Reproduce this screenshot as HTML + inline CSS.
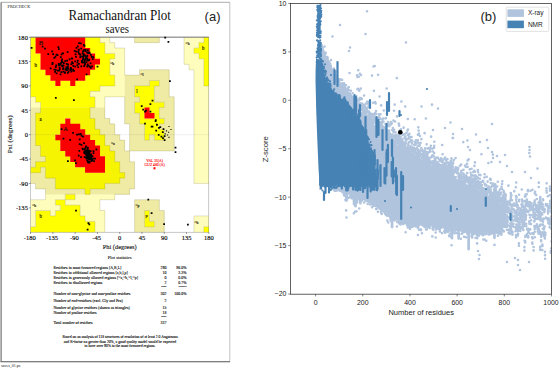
<!DOCTYPE html>
<html><head><meta charset="utf-8"><title>Figure</title>
<style>html,body{margin:0;padding:0;background:#fff}body{width:560px;height:369px;overflow:hidden;font-family:"Liberation Sans",sans-serif}</style></head>
<body>
<svg width="560" height="369" viewBox="0 0 560 369" style="display:block">
<rect width="560" height="369" fill="#fff"/>
<g fill="none" stroke="#777">
<path d="M1.1 2.3V361.7" stroke-width="1.1" stroke="#666"/>
<path d="M1 2.3H229.8" stroke-width="0.7" stroke="#888"/>
<path d="M229.8 2.3V361.7" stroke-width="0.6" stroke="#999"/>
<path d="M0.6 361.7H230" stroke-width="1.1" stroke="#555"/>
</g>
<path fill="#ffff00" d="M30.6 37.2h5.1v5.57h-5.1zM85.05 37.2h15v5.57h-15zM203.85 37.2h5.1v5.57h-5.1zM30.6 42.62h5.1v5.57h-5.1zM85.05 42.62h19.95v5.57h-19.95zM198.9 42.62h10.05v5.57h-10.05zM30.6 48.03h5.1v5.57h-5.1zM90 48.03h15v5.57h-15zM193.95 48.03h15v5.57h-15zM30.6 53.45h10.05v5.57h-10.05zM94.95 53.45h19.95v5.57h-19.95zM198.9 53.45h10.05v5.57h-10.05zM30.6 58.87h10.05v5.57h-10.05zM99.9 58.87h10.05v5.57h-10.05zM203.85 58.87h5.1v5.57h-5.1zM30.6 64.28h10.05v5.57h-10.05zM94.95 64.28h15v5.57h-15zM203.85 64.28h5.1v5.57h-5.1zM30.6 69.7h15v5.57h-15zM90 69.7h19.95v5.57h-19.95zM203.85 69.7h5.1v5.57h-5.1zM30.6 75.12h19.95v5.57h-19.95zM85.05 75.12h29.85v5.57h-29.85zM203.85 75.12h5.1v5.57h-5.1zM30.6 80.53h24.9v5.57h-24.9zM60.3 80.53h10.05v5.57h-10.05zM75.15 80.53h39.75v5.57h-39.75zM149.4 80.53h10.05v5.57h-10.05zM203.85 80.53h5.1v5.57h-5.1zM30.6 85.95h69.45v5.57h-69.45zM134.55 85.95h19.95v5.57h-19.95zM30.6 91.37h59.55v5.57h-59.55zM134.55 91.37h19.95v5.57h-19.95zM35.55 96.78h59.55v5.57h-59.55zM139.5 96.78h15v5.57h-15zM40.5 102.2h54.6v5.57h-54.6zM134.55 102.2h29.85v5.57h-29.85zM134.55 107.62h10.05v5.57h-10.05zM149.4 107.62h10.05v5.57h-10.05zM139.5 113.03h5.1v5.57h-5.1zM154.35 113.03h5.1v5.57h-5.1zM139.5 118.45h24.9v5.57h-24.9zM144.45 123.87h15v5.57h-15zM144.45 129.28h19.95v5.57h-19.95zM144.45 134.7h5.1v5.57h-5.1zM154.35 134.7h10.05v5.57h-10.05zM65.25 194.28h10.05v5.57h-10.05zM55.35 199.7h10.05v5.57h-10.05zM60.3 205.12h19.95v5.57h-19.95zM35.55 210.53h15v5.57h-15zM55.35 210.53h24.9v5.57h-24.9zM144.45 210.53h5.1v5.57h-5.1zM35.55 215.95h49.65v5.57h-49.65zM144.45 215.95h5.1v5.57h-5.1zM35.55 221.37h59.55v5.57h-59.55zM144.45 221.37h10.05v5.57h-10.05zM30.6 226.78h64.5v5.57h-64.5zM203.85 226.78h5.1v5.57h-5.1z"/>
<path fill="#ff0000" d="M35.55 37.2h49.65v5.57h-49.65zM35.55 42.62h49.65v5.57h-49.65zM35.55 48.03h54.6v5.57h-54.6zM40.5 53.45h54.6v5.57h-54.6zM40.5 58.87h59.55v5.57h-59.55zM40.5 64.28h54.6v5.57h-54.6zM45.45 69.7h44.7v5.57h-44.7zM50.4 75.12h34.8v5.57h-34.8zM55.35 80.53h5.1v5.57h-5.1zM70.2 80.53h5.1v5.57h-5.1zM144.45 107.62h5.1v5.57h-5.1zM144.45 113.03h10.05v5.57h-10.05z"/>
<path fill="#fffdbc" d="M99.9 37.2h10.05v5.57h-10.05zM184.05 37.2h19.95v5.57h-19.95zM104.85 42.62h10.05v5.57h-10.05zM184.05 42.62h15v5.57h-15zM104.85 48.03h19.95v5.57h-19.95zM184.05 48.03h10.05v5.57h-10.05zM114.75 53.45h10.05v5.57h-10.05zM184.05 53.45h15v5.57h-15zM109.8 58.87h15v5.57h-15zM184.05 58.87h19.95v5.57h-19.95zM109.8 64.28h15v5.57h-15zM189 64.28h15v5.57h-15zM109.8 69.7h15v5.57h-15zM193.95 69.7h10.05v5.57h-10.05zM114.75 75.12h10.05v5.57h-10.05zM193.95 75.12h10.05v5.57h-10.05zM114.75 80.53h10.05v5.57h-10.05zM193.95 80.53h10.05v5.57h-10.05zM99.9 85.95h24.9v5.57h-24.9zM193.95 85.95h15v5.57h-15zM90 91.37h34.8v5.57h-34.8zM193.95 91.37h15v5.57h-15zM30.6 96.78h5.1v5.57h-5.1zM94.95 96.78h10.05v5.57h-10.05zM193.95 96.78h15v5.57h-15zM30.6 102.2h10.05v5.57h-10.05zM94.95 102.2h10.05v5.57h-10.05zM193.95 102.2h15v5.57h-15zM193.95 107.62h15v5.57h-15zM193.95 113.03h15v5.57h-15zM193.95 118.45h15v5.57h-15zM193.95 123.87h15v5.57h-15zM193.95 129.28h15v5.57h-15zM193.95 134.7h15v5.57h-15zM193.95 140.12h15v5.57h-15zM193.95 145.53h15v5.57h-15zM193.95 150.95h15v5.57h-15zM193.95 156.37h15v5.57h-15zM193.95 161.78h15v5.57h-15zM193.95 167.2h15v5.57h-15zM193.95 172.62h15v5.57h-15zM193.95 178.03h15v5.57h-15zM45.45 194.28h19.95v5.57h-19.95zM75.15 194.28h39.75v5.57h-39.75zM30.6 199.7h24.9v5.57h-24.9zM65.25 199.7h34.8v5.57h-34.8zM30.6 205.12h29.85v5.57h-29.85zM80.1 205.12h19.95v5.57h-19.95zM30.6 210.53h5.1v5.57h-5.1zM50.4 210.53h5.1v5.57h-5.1zM80.1 210.53h24.9v5.57h-24.9zM30.6 215.95h5.1v5.57h-5.1zM85.05 215.95h19.95v5.57h-19.95zM193.95 215.95h15v5.57h-15zM30.6 221.37h5.1v5.57h-5.1zM94.95 221.37h10.05v5.57h-10.05zM193.95 221.37h15v5.57h-15zM94.95 226.78h10.05v5.57h-10.05zM193.95 226.78h10.05v5.57h-10.05z"/>
<path fill="#efeba4" d="M134.55 37.2h24.9v5.57h-24.9zM139.5 69.7h29.85v5.57h-29.85zM124.65 75.12h44.7v5.57h-44.7zM124.65 80.53h24.9v5.57h-24.9zM159.3 80.53h10.05v5.57h-10.05zM124.65 85.95h10.05v5.57h-10.05zM154.35 85.95h15v5.57h-15zM124.65 91.37h10.05v5.57h-10.05zM154.35 91.37h15v5.57h-15zM124.65 96.78h15v5.57h-15zM154.35 96.78h19.95v5.57h-19.95zM124.65 102.2h10.05v5.57h-10.05zM164.25 102.2h10.05v5.57h-10.05zM30.6 107.62h10.05v5.57h-10.05zM90 107.62h15v5.57h-15zM124.65 107.62h10.05v5.57h-10.05zM159.3 107.62h15v5.57h-15zM30.6 113.03h5.1v5.57h-5.1zM90 113.03h15v5.57h-15zM124.65 113.03h15v5.57h-15zM159.3 113.03h15v5.57h-15zM30.6 118.45h5.1v5.57h-5.1zM94.95 118.45h15v5.57h-15zM124.65 118.45h15v5.57h-15zM164.25 118.45h10.05v5.57h-10.05zM30.6 123.87h5.1v5.57h-5.1zM94.95 123.87h19.95v5.57h-19.95zM129.6 123.87h15v5.57h-15zM159.3 123.87h15v5.57h-15zM30.6 129.28h5.1v5.57h-5.1zM99.9 129.28h15v5.57h-15zM129.6 129.28h15v5.57h-15zM164.25 129.28h10.05v5.57h-10.05zM30.6 134.7h5.1v5.57h-5.1zM104.85 134.7h15v5.57h-15zM129.6 134.7h15v5.57h-15zM149.4 134.7h5.1v5.57h-5.1zM164.25 134.7h10.05v5.57h-10.05zM30.6 140.12h5.1v5.57h-5.1zM104.85 140.12h19.95v5.57h-19.95zM129.6 140.12h44.7v5.57h-44.7zM30.6 145.53h10.05v5.57h-10.05zM109.8 145.53h15v5.57h-15zM129.6 145.53h44.7v5.57h-44.7zM30.6 150.95h10.05v5.57h-10.05zM114.75 150.95h15v5.57h-15zM30.6 156.37h15v5.57h-15zM114.75 156.37h15v5.57h-15zM30.6 161.78h5.1v5.57h-5.1zM119.7 161.78h15v5.57h-15zM40.5 167.2h5.1v5.57h-5.1zM119.7 167.2h15v5.57h-15zM30.6 172.62h15v5.57h-15zM124.65 172.62h10.05v5.57h-10.05zM30.6 178.03h24.9v5.57h-24.9zM119.7 178.03h15v5.57h-15zM35.55 183.45h19.95v5.57h-19.95zM104.85 183.45h29.85v5.57h-29.85zM45.45 188.87h39.75v5.57h-39.75zM90 188.87h39.75v5.57h-39.75zM134.55 199.7h24.9v5.57h-24.9zM134.55 205.12h24.9v5.57h-24.9zM134.55 210.53h10.05v5.57h-10.05zM149.4 210.53h15v5.57h-15zM134.55 215.95h10.05v5.57h-10.05zM149.4 215.95h15v5.57h-15zM134.55 221.37h10.05v5.57h-10.05zM154.35 221.37h10.05v5.57h-10.05zM134.55 226.78h29.85v5.57h-29.85z"/>
<path fill="#f6f400" d="M40.5 107.62h49.65v5.57h-49.65zM35.55 113.03h54.6v5.57h-54.6zM35.55 118.45h29.85v5.57h-29.85zM70.2 118.45h24.9v5.57h-24.9zM35.55 123.87h24.9v5.57h-24.9zM80.1 123.87h15v5.57h-15zM35.55 129.28h24.9v5.57h-24.9zM85.05 129.28h15v5.57h-15zM35.55 134.7h19.95v5.57h-19.95zM90 134.7h15v5.57h-15zM35.55 140.12h24.9v5.57h-24.9zM94.95 140.12h10.05v5.57h-10.05zM40.5 145.53h19.95v5.57h-19.95zM99.9 145.53h10.05v5.57h-10.05zM40.5 150.95h24.9v5.57h-24.9zM99.9 150.95h15v5.57h-15zM45.45 156.37h24.9v5.57h-24.9zM104.85 156.37h10.05v5.57h-10.05zM35.55 161.78h39.75v5.57h-39.75zM104.85 161.78h15v5.57h-15zM30.6 167.2h10.05v5.57h-10.05zM45.45 167.2h39.75v5.57h-39.75zM104.85 167.2h15v5.57h-15zM45.45 172.62h79.35v5.57h-79.35zM55.35 178.03h64.5v5.57h-64.5zM55.35 183.45h49.65v5.57h-49.65zM85.05 188.87h5.1v5.57h-5.1z"/>
<path fill="#fa0000" d="M65.25 118.45h5.1v5.57h-5.1zM60.3 123.87h19.95v5.57h-19.95zM60.3 129.28h24.9v5.57h-24.9zM55.35 134.7h34.8v5.57h-34.8zM60.3 140.12h34.8v5.57h-34.8zM60.3 145.53h39.75v5.57h-39.75zM65.25 150.95h34.8v5.57h-34.8zM70.2 156.37h34.8v5.57h-34.8zM75.15 161.78h29.85v5.57h-29.85zM85.05 167.2h19.95v5.57h-19.95z"/>
<path d="M99.9 37.2v5.42M99.9 42.62h4.95M109.8 37.2v5.42M109.8 42.62h4.95M134.55 37.2v5.42M134.55 42.62h4.95M139.5 42.62h4.95M144.45 42.62h4.95M149.4 42.62h4.95M159.3 37.2v5.42M154.35 42.62h4.95M184.05 37.2v5.42M203.85 37.2v5.42M198.9 42.62h4.95M104.85 42.62v5.42M114.75 42.62v5.42M114.75 48.03h4.95M119.7 48.03h4.95M184.05 42.62v5.42M198.9 42.62v5.42M193.95 48.03h4.95M104.85 48.03v5.42M104.85 53.45h4.95M109.8 53.45h4.95M124.65 48.03v5.42M184.05 48.03v5.42M193.95 48.03v5.42M193.95 53.45h4.95M114.75 53.45v5.42M109.8 58.87h4.95M124.65 53.45v5.42M184.05 53.45v5.42M198.9 53.45v5.42M198.9 58.87h4.95M109.8 58.87v5.42M124.65 58.87v5.42M184.05 58.87v5.42M184.05 64.28h4.95M203.85 58.87v5.42M109.8 64.28v5.42M124.65 64.28v5.42M139.5 69.7h4.95M144.45 69.7h4.95M149.4 69.7h4.95M154.35 69.7h4.95M159.3 69.7h4.95M164.25 69.7h4.95M189 64.28v5.42M189 69.7h4.95M203.85 64.28v5.42M109.8 69.7v5.42M109.8 75.12h4.95M124.65 69.7v5.42M124.65 75.12h4.95M129.6 75.12h4.95M139.5 69.7v5.42M134.55 75.12h4.95M169.2 69.7v5.42M193.95 69.7v5.42M203.85 69.7v5.42M114.75 75.12v5.42M149.4 80.53h4.95M154.35 80.53h4.95M169.2 75.12v5.42M193.95 75.12v5.42M203.85 75.12v5.42M99.9 85.95h4.95M104.85 85.95h4.95M114.75 80.53v5.42M109.8 85.95h4.95M134.55 85.95h4.95M139.5 85.95h4.95M149.4 80.53v5.42M144.45 85.95h4.95M159.3 80.53v5.42M154.35 85.95h4.95M169.2 80.53v5.42M193.95 80.53v5.42M203.85 80.53v5.42M203.85 85.95h4.95M90 91.37h4.95M99.9 85.95v5.42M94.95 91.37h4.95M134.55 85.95v5.42M154.35 85.95v5.42M169.2 85.95v5.42M193.95 85.95v5.42M30.6 96.78h4.95M90 91.37v5.42M90 96.78h4.95M104.85 96.78h4.95M109.8 96.78h4.95M114.75 96.78h4.95M119.7 96.78h4.95M134.55 91.37v5.42M134.55 96.78h4.95M154.35 91.37v5.42M169.2 91.37v5.42M169.2 96.78h4.95M193.95 91.37v5.42M35.55 96.78v5.42M35.55 102.2h4.95M94.95 96.78v5.42M104.85 96.78v5.42M124.65 96.78v5.42M139.5 96.78v5.42M134.55 102.2h4.95M154.35 96.78v5.42M154.35 102.2h4.95M159.3 102.2h4.95M174.15 96.78v5.42M193.95 96.78v5.42M40.5 102.2v5.42M94.95 102.2v5.42M90 107.62h4.95M104.85 102.2v5.42M124.65 102.2v5.42M134.55 102.2v5.42M164.25 102.2v5.42M159.3 107.62h4.95M174.15 102.2v5.42M193.95 102.2v5.42M40.5 107.62v5.42M35.55 113.03h4.95M90 107.62v5.42M104.85 107.62v5.42M124.65 107.62v5.42M134.55 107.62v5.42M134.55 113.03h4.95M159.3 107.62v5.42M174.15 107.62v5.42M193.95 107.62v5.42M35.55 113.03v5.42M90 113.03v5.42M90 118.45h4.95M104.85 113.03v5.42M104.85 118.45h4.95M124.65 113.03v5.42M139.5 113.03v5.42M159.3 113.03v5.42M159.3 118.45h4.95M174.15 113.03v5.42M193.95 113.03v5.42M35.55 118.45v5.42M94.95 118.45v5.42M109.8 118.45v5.42M109.8 123.87h4.95M124.65 118.45v5.42M124.65 123.87h4.95M139.5 118.45v5.42M139.5 123.87h4.95M164.25 118.45v5.42M159.3 123.87h4.95M174.15 118.45v5.42M193.95 118.45v5.42M35.55 123.87v5.42M94.95 123.87v5.42M94.95 129.28h4.95M114.75 123.87v5.42M129.6 123.87v5.42M144.45 123.87v5.42M159.3 123.87v5.42M159.3 129.28h4.95M174.15 123.87v5.42M193.95 123.87v5.42M35.55 129.28v5.42M99.9 129.28v5.42M99.9 134.7h4.95M114.75 129.28v5.42M114.75 134.7h4.95M129.6 129.28v5.42M144.45 129.28v5.42M149.4 134.7h4.95M164.25 129.28v5.42M174.15 129.28v5.42M193.95 129.28v5.42M35.55 134.7v5.42M104.85 134.7v5.42M119.7 134.7v5.42M119.7 140.12h4.95M129.6 134.7v5.42M144.45 134.7v5.42M149.4 134.7v5.42M144.45 140.12h4.95M154.35 134.7v5.42M154.35 140.12h4.95M164.25 134.7v5.42M159.3 140.12h4.95M174.15 134.7v5.42M193.95 134.7v5.42M35.55 140.12v5.42M35.55 145.53h4.95M104.85 140.12v5.42M104.85 145.53h4.95M124.65 140.12v5.42M129.6 140.12v5.42M174.15 140.12v5.42M193.95 140.12v5.42M40.5 145.53v5.42M109.8 145.53v5.42M109.8 150.95h4.95M124.65 145.53v5.42M129.6 145.53v5.42M124.65 150.95h4.95M129.6 150.95h4.95M134.55 150.95h4.95M139.5 150.95h4.95M144.45 150.95h4.95M149.4 150.95h4.95M154.35 150.95h4.95M159.3 150.95h4.95M164.25 150.95h4.95M174.15 145.53v5.42M169.2 150.95h4.95M193.95 145.53v5.42M40.5 150.95v5.42M40.5 156.37h4.95M114.75 150.95v5.42M129.6 150.95v5.42M193.95 150.95v5.42M35.55 161.78h4.95M45.45 156.37v5.42M40.5 161.78h4.95M114.75 156.37v5.42M114.75 161.78h4.95M129.6 156.37v5.42M129.6 161.78h4.95M193.95 156.37v5.42M35.55 161.78v5.42M30.6 167.2h4.95M40.5 167.2h4.95M119.7 161.78v5.42M134.55 161.78v5.42M193.95 161.78v5.42M30.6 172.62h4.95M40.5 167.2v5.42M35.55 172.62h4.95M45.45 167.2v5.42M119.7 167.2v5.42M119.7 172.62h4.95M134.55 167.2v5.42M193.95 167.2v5.42M45.45 172.62v5.42M45.45 178.03h4.95M50.4 178.03h4.95M124.65 172.62v5.42M119.7 178.03h4.95M134.55 172.62v5.42M193.95 172.62v5.42M30.6 183.45h4.95M55.35 178.03v5.42M104.85 183.45h4.95M109.8 183.45h4.95M119.7 178.03v5.42M114.75 183.45h4.95M134.55 178.03v5.42M193.95 178.03v5.42M193.95 183.45h4.95M198.9 183.45h4.95M203.85 183.45h4.95M35.55 183.45v5.42M35.55 188.87h4.95M40.5 188.87h4.95M55.35 183.45v5.42M55.35 188.87h4.95M60.3 188.87h4.95M65.25 188.87h4.95M70.2 188.87h4.95M75.15 188.87h4.95M80.1 188.87h4.95M90 188.87h4.95M94.95 188.87h4.95M104.85 183.45v5.42M99.9 188.87h4.95M134.55 183.45v5.42M129.6 188.87h4.95M45.45 188.87v5.42M65.25 194.28h4.95M70.2 194.28h4.95M85.05 188.87v5.42M90 188.87v5.42M85.05 194.28h4.95M114.75 194.28h4.95M119.7 194.28h4.95M129.6 188.87v5.42M124.65 194.28h4.95M30.6 199.7h4.95M35.55 199.7h4.95M45.45 194.28v5.42M40.5 199.7h4.95M55.35 199.7h4.95M65.25 194.28v5.42M60.3 199.7h4.95M65.25 199.7h4.95M75.15 194.28v5.42M70.2 199.7h4.95M99.9 199.7h4.95M104.85 199.7h4.95M114.75 194.28v5.42M109.8 199.7h4.95M134.55 199.7h4.95M139.5 199.7h4.95M144.45 199.7h4.95M149.4 199.7h4.95M154.35 199.7h4.95M55.35 199.7v5.42M55.35 205.12h4.95M65.25 199.7v5.42M65.25 205.12h4.95M70.2 205.12h4.95M75.15 205.12h4.95M99.9 199.7v5.42M134.55 199.7v5.42M159.3 199.7v5.42M35.55 210.53h4.95M40.5 210.53h4.95M45.45 210.53h4.95M60.3 205.12v5.42M55.35 210.53h4.95M80.1 205.12v5.42M99.9 205.12v5.42M99.9 210.53h4.95M134.55 205.12v5.42M144.45 210.53h4.95M159.3 205.12v5.42M159.3 210.53h4.95M35.55 210.53v5.42M50.4 210.53v5.42M55.35 210.53v5.42M50.4 215.95h4.95M80.1 210.53v5.42M80.1 215.95h4.95M104.85 210.53v5.42M134.55 210.53v5.42M144.45 210.53v5.42M149.4 210.53v5.42M164.25 210.53v5.42M193.95 215.95h4.95M198.9 215.95h4.95M203.85 215.95h4.95M35.55 215.95v5.42M85.05 215.95v5.42M85.05 221.37h4.95M90 221.37h4.95M104.85 215.95v5.42M134.55 215.95v5.42M144.45 215.95v5.42M149.4 215.95v5.42M149.4 221.37h4.95M164.25 215.95v5.42M193.95 215.95v5.42M35.55 221.37v5.42M30.6 226.78h4.95M94.95 221.37v5.42M104.85 221.37v5.42M134.55 221.37v5.42M144.45 221.37v5.42M144.45 226.78h4.95M154.35 221.37v5.42M149.4 226.78h4.95M164.25 221.37v5.42M193.95 221.37v5.42M203.85 226.78h4.95M94.95 226.78v5.42M104.85 226.78v5.42M134.55 226.78v5.42M164.25 226.78v5.42M193.95 226.78v5.42M203.85 226.78v5.42" stroke="#5a5a20" stroke-opacity="0.38" stroke-width="0.45" fill="none"/>
<path d="M30.6 37.1H208.8" stroke="#444" stroke-width="0.6" fill="none"/>
<rect x="30.6" y="37.2" width="178.2" height="195" fill="none" stroke="#666" stroke-opacity="0.7" stroke-width="0.5"/>
<path d="M30.6 134.7H208.8" stroke="#666" stroke-opacity="0.5" stroke-width="0.4" stroke-dasharray="0.8 0.8" fill="none"/>
<g font-family="Liberation Serif, serif" fill="#000" stroke="#000" stroke-width="0.12">
<text transform="translate(27.9 39.5) scale(1 1.09)" font-size="6.55" text-anchor="end">180</text>
<text transform="translate(27.9 63.88) scale(1 1.09)" font-size="6.55" text-anchor="end">135</text>
<text transform="translate(27.9 88.25) scale(1 1.09)" font-size="6.55" text-anchor="end">90</text>
<text transform="translate(27.9 112.62) scale(1 1.09)" font-size="6.55" text-anchor="end">45</text>
<text transform="translate(27.9 137) scale(1 1.09)" font-size="6.55" text-anchor="end">0</text>
<text transform="translate(27.9 161.38) scale(1 1.09)" font-size="6.55" text-anchor="end">-45</text>
<text transform="translate(27.9 185.75) scale(1 1.09)" font-size="6.55" text-anchor="end">-90</text>
<text transform="translate(27.9 210.12) scale(1 1.09)" font-size="6.55" text-anchor="end">-135</text>
<text transform="translate(29.8 240.1) scale(1 1.09)" font-size="6.55" text-anchor="middle">-180</text>
<text transform="translate(52.08 240.1) scale(1 1.09)" font-size="6.55" text-anchor="middle">-135</text>
<text transform="translate(74.35 240.1) scale(1 1.09)" font-size="6.55" text-anchor="middle">-90</text>
<text transform="translate(96.63 240.1) scale(1 1.09)" font-size="6.55" text-anchor="middle">-45</text>
<text transform="translate(119.7 240.1) scale(1 1.09)" font-size="6.55" text-anchor="middle">0</text>
<text transform="translate(141.97 240.1) scale(1 1.09)" font-size="6.55" text-anchor="middle">45</text>
<text transform="translate(164.25 240.1) scale(1 1.09)" font-size="6.55" text-anchor="middle">90</text>
<text transform="translate(186.53 240.1) scale(1 1.09)" font-size="6.55" text-anchor="middle">135</text>
<text transform="translate(208.8 240.1) scale(1 1.09)" font-size="6.55" text-anchor="middle">180</text>
</g>
<path d="M30.6 37.2h-1.7M30.6 61.58h-1.7M30.6 85.95h-1.7M30.6 110.33h-1.7M30.6 134.7h-1.7M30.6 159.07h-1.7M30.6 183.45h-1.7M30.6 207.82h-1.7M30.6 232.2v1.7M52.88 232.2v1.7M75.15 232.2v1.7M97.43 232.2v1.7M119.7 232.2v1.7M141.97 232.2v1.7M164.25 232.2v1.7M186.53 232.2v1.7M208.8 232.2v1.7" stroke="#333" stroke-width="0.5" fill="none"/>
<g font-family="Liberation Serif, serif" fill="#111" text-anchor="middle">
<text transform="translate(119.8 20.4) scale(1 1.09)" font-size="13.05" text-anchor="middle">Ramachandran Plot</text>
<text transform="translate(117.3 33.3) scale(1 1.09)" font-size="10.9" text-anchor="middle">saves</text>
<text transform="translate(119.7 249) scale(1 1.09)" font-size="6.4" text-anchor="middle" stroke="#000" stroke-width="0.1">Phi (degrees)</text>
<text transform="translate(119.7 258.9) scale(1 1.09)" font-size="4.5" text-anchor="middle" stroke="#000" stroke-width="0.08">Plot statistics</text>
<text transform="translate(12.1 134.3) rotate(-90) scale(1.09 1)" font-size="6.7" stroke="#000" stroke-width="0.1">Psi (degrees)</text>
</g>
<g font-family="Liberation Serif, serif" fill="#111">
<text transform="translate(7.6 8) scale(1 1.09)" font-size="4.25" text-anchor="start">PROCHECK</text>
<text transform="translate(1.2 367.3) scale(1 1.09)" font-size="4.0" text-anchor="start">saves_01.ps</text>
</g>
<text x="204.6" y="21.4" font-family="Liberation Sans, sans-serif" font-size="13" fill="#222">(a)</text>
<g font-family="Liberation Serif, serif" fill="#1a1000" stroke="#1a1000" stroke-width="0.15">
<text transform="translate(38.7 45) scale(1 1.09)" font-size="6.5" text-anchor="start">B</text>
<text transform="translate(34.6 66.7) scale(1 1.09)" font-size="5" text-anchor="start">b</text>
<text transform="translate(110.2 65.3) scale(1 1.09)" font-size="3.8" text-anchor="start">~b</text>
<text transform="translate(63.2 131.3) scale(1 1.09)" font-size="6.5" text-anchor="start">A</text>
<text transform="translate(39.5 120.8) scale(1 1.09)" font-size="4.8" text-anchor="start">a</text>
<text transform="translate(111 144.8) scale(1 1.09)" font-size="3.8" text-anchor="start">~a</text>
<text transform="translate(136.2 93.3) scale(1 1.09)" font-size="4.8" text-anchor="start">l</text>
<text transform="translate(140.4 76.4) scale(1 1.09)" font-size="3.8" text-anchor="start">~l</text>
<text transform="translate(185.6 44.8) scale(1 1.09)" font-size="3.8" text-anchor="start">~b</text>
<text transform="translate(202 49.5) scale(1 1.09)" font-size="4.8" text-anchor="start">b</text>
<text transform="translate(32.2 206.8) scale(1 1.09)" font-size="3.8" text-anchor="start">~b</text>
<text transform="translate(39.4 217.6) scale(1 1.09)" font-size="4.8" text-anchor="start">b</text>
<text transform="translate(135.4 206.8) scale(1 1.09)" font-size="3.8" text-anchor="start">~p</text>
<text transform="translate(145.6 216.5) scale(1 1.09)" font-size="4.6" text-anchor="start">p</text>
<text transform="translate(194.4 223.5) scale(1 1.09)" font-size="3.8" text-anchor="start">~b</text>
</g>
<path d="M169 126.5h.01M168.6 132.2h.01M169 137.4h.01M171 129.5h.01M166.5 130.8h.01M167.5 135h.01M165.2 133.8h.01" stroke="#111" stroke-width="1.15" stroke-linecap="square" fill="none"/>
<path d="M62.96 69.15h.01M63.14 65.41h.01M58.92 65.39h.01M71.17 69.7h.01M70.72 68.85h.01M66.87 68.12h.01M54.5 69.74h.01M67.54 69.62h.01M54.35 57.9h.01M59.16 64.26h.01M66.33 67h.01M67.63 64.44h.01M66.35 69.01h.01M60.53 74.36h.01M67.84 72.83h.01M60.78 63.21h.01M62.44 66.28h.01M68.29 68.57h.01M61.82 62.34h.01M61.38 72.19h.01M59.65 67.56h.01M67.06 60.52h.01M64.79 72.97h.01M52.41 64.15h.01M63.86 63.21h.01M67.48 67.06h.01M55.71 69.75h.01M68.52 71.76h.01M73.14 69.64h.01M65.22 61.17h.01M68.19 64.64h.01M61.78 60.94h.01M58.69 63.92h.01M72.23 58.65h.01M55.75 67.08h.01M73.16 70.63h.01M53.1 54.24h.01M66.64 63.9h.01M57.78 70.67h.01M71.11 68.48h.01M65.97 69.15h.01M74.06 70.92h.01M67.61 69.85h.01M55.09 71.75h.01M70.23 70.07h.01M52.66 62.76h.01M69.55 59.34h.01M63.4 71.51h.01M56.63 73.42h.01M67.81 66.7h.01M66.45 70.18h.01M65.22 72.29h.01M60.53 64.66h.01M70.75 67.84h.01M59.22 70.7h.01M73.29 65.99h.01M56.22 65.43h.01M63.61 65.54h.01M72.93 63.3h.01M72.06 62.1h.01M59.78 69.33h.01M71.27 71.69h.01M66.57 67.89h.01M65.41 69.72h.01M63.44 68.14h.01M67.94 67.4h.01M87.25 58.8h.01M91.74 56.97h.01M82.96 51.67h.01M84.45 61.52h.01M83.29 57.43h.01M80.45 56.35h.01M85.93 56.31h.01M82.95 59.48h.01M85.52 50.53h.01M93.25 57.2h.01M82.5 53.74h.01M83.69 54.02h.01M74.68 50.8h.01M84.26 61.75h.01M87.58 65.83h.01M78.37 51.81h.01M83.27 59.24h.01M85.13 63.58h.01M83.96 55.95h.01M87.37 55.57h.01M84.18 66.15h.01M88.27 52.27h.01M87.79 52.48h.01M84.98 59.86h.01M85.3 59.35h.01M79 43.03h.01M80.8 43.33h.01M89.06 60.17h.01M84.5 45.83h.01M87.26 66.58h.01M81.3 66.36h.01M88.06 53.15h.01M77.4 65.19h.01M84.15 49.92h.01M85.94 57.62h.01M88.59 65.8h.01M89.73 53.13h.01M81.82 62.24h.01M84.91 55.44h.01M89.63 52.5h.01M76.23 51.56h.01M77.83 60.72h.01M85.64 49.85h.01M84.47 60.83h.01M84.78 64.58h.01M84.28 62.41h.01M89.87 66.74h.01M82.08 61.19h.01M77.75 46.27h.01M77.43 62.62h.01M80.07 54.4h.01M83.81 54.28h.01M82.37 56.28h.01M90.95 54.84h.01M86.41 62.1h.01M83.79 44.93h.01M82.5 62.66h.01M78.57 49.96h.01M88.13 60.52h.01M84.53 60.62h.01M78.87 49.64h.01M87.82 50.2h.01M81.25 48.64h.01M78.99 53.61h.01M80.25 57.27h.01M76 56.99h.01M87.11 52.41h.01M76.47 47.85h.01M85.55 51.01h.01M87.31 60.18h.01M86.9 56.98h.01M89.3 59.51h.01M87.73 64.45h.01M83.43 50.93h.01M77.16 79.39h.01M61.8 65.52h.01M92.75 59.04h.01M78.17 67.22h.01M62.04 59.29h.01M75.22 66.6h.01M71.62 58.44h.01M60.82 57.13h.01M81.81 60.81h.01M62.62 53.27h.01M78.84 63.85h.01M90.53 63.42h.01M71.26 64.18h.01M50.61 68.27h.01M75.57 54.38h.01M86.58 74.47h.01M56.57 54.67h.01M75.2 61.47h.01M67.62 52.21h.01M58.86 49.24h.01M90.73 67.91h.01M92.03 66.48h.01M62.41 62.09h.01M48.24 54.02h.01M57.53 55.14h.01M52.18 51.25h.01M61.67 54.26h.01M63.1 53.25h.01M55.41 56.73h.01M58.39 47.04h.01M86.99 154.3h.01M88.07 155.63h.01M88.3 155.87h.01M88.02 151.8h.01M89.18 158.96h.01M89.21 155.66h.01M89.24 153.6h.01M84.32 152.22h.01M86.35 155.74h.01M86.02 146.47h.01M86.12 157.79h.01M87.5 151.07h.01M86.7 155.45h.01M89.34 156.75h.01M91.42 159.9h.01M88.26 156.96h.01M91.77 160.91h.01M90.45 154.31h.01M87.99 157.09h.01M87.68 157.73h.01M89.55 158.88h.01M87.85 161.83h.01M90.9 157.01h.01M88.49 162.5h.01M87.58 157.13h.01M90.36 157.14h.01M85.85 153.85h.01M89.05 159.05h.01M89.94 156.84h.01M90.09 158.35h.01M88.73 155.91h.01M87.79 156.81h.01M86.09 151.86h.01M88.31 151.5h.01M87.38 149.26h.01M86.87 155.72h.01M89.49 156.25h.01M87.81 151.2h.01M92.14 160h.01M90.6 154.97h.01M87.91 150.21h.01M89.94 159.27h.01M84.32 151.92h.01M89.62 151.8h.01M84.47 149.34h.01M86.98 150.54h.01M88.37 156.12h.01M89.63 158.39h.01M91.46 161.16h.01M85.55 151.74h.01M86.07 150.66h.01M88.13 155.27h.01M89.33 152.02h.01M85.7 153.16h.01M87.88 154.22h.01M88.17 153.26h.01M89.77 157.58h.01M88.12 153.45h.01M87.93 147.82h.01M86.24 153.77h.01M85.14 153.29h.01M88.61 151.98h.01M87.77 154.12h.01M89.27 157.84h.01M88.22 153.06h.01M88 154.97h.01M89.84 157.48h.01M86.78 150.51h.01M87.52 152.76h.01M85.97 153.13h.01M87.27 154.82h.01M89.4 155.22h.01M93.18 158.63h.01M90.61 157.66h.01M90.64 151.01h.01M86.72 154.74h.01M89.57 162.7h.01M88.98 159.39h.01M89.91 159.28h.01M89.37 155.88h.01M89.37 153.41h.01M90.78 154.76h.01M88.82 161.51h.01M87.83 155.06h.01M90.74 157.52h.01M86.6 154.67h.01M89.52 158.32h.01M86.68 158.72h.01M91.8 158.38h.01M88.86 154.73h.01M91.27 156h.01M89.72 155.3h.01M86.84 156.1h.01M91.1 157.72h.01M86.88 156.38h.01M88.2 156.14h.01M91.5 161.1h.01M87.21 160.59h.01M88.31 157.51h.01M86.94 154.14h.01M84.63 157.09h.01M91.17 154.56h.01M85.14 148.42h.01M90.77 156.24h.01M88.17 154.46h.01M88.05 152.28h.01M88.35 151.6h.01M88.15 156.1h.01M89.28 155.6h.01M86.4 154.24h.01M87.28 158.73h.01M89.91 156.44h.01M87.31 152.69h.01M86.33 152.81h.01M88.92 157.3h.01M89.32 161.68h.01M85.24 150.78h.01M96.44 149.33h.01M85.83 151.76h.01M87.99 153.96h.01M86.74 153.08h.01M87.67 155.28h.01M81.44 144.94h.01M87.49 147.74h.01M84.16 152.71h.01M85.42 153.45h.01M89.89 154.61h.01M89.13 152.48h.01M82.99 149.34h.01M88.95 150.63h.01M87.18 154.91h.01M84.69 153.06h.01M93.46 153.07h.01M87.97 151.64h.01M92.43 156.08h.01M61.6 129h.01M73 132.8h.01M63.5 138.5h.01M70.2 139.8h.01M77 134.6h.01M78.8 134.3h.01M80.6 133.8h.01M81.5 135.6h.01M83 136.5h.01M79.7 139.4h.01M79.7 144.2h.01M79.3 150.8h.01M78.7 155.5h.01M67.9 161.2h.01M75 160.3h.01M75.9 163h.01M84 143h.01M86 146.5h.01M82.5 148.5h.01M93.5 151h.01M95 158.5h.01M94 161h.01M81 157h.01M155.6 121.1h.01M157 124.8h.01M151.6 126.5h.01M160.3 127h.01M156.2 130.5h.01M158.7 134.9h.01M161.4 136.5h.01M164.6 136h.01M164.6 140h.01M175.5 147.6h.01M175.5 152.2h.01M152.5 100.7h.01M150.4 104h.01M141.7 106.1h.01M145 111.5h.01M146 110.5h.01M150.4 111.5h.01M155.8 120.2h.01M145 123.5h.01M152.5 126.7h.01M156.9 124.6h.01M159 127.8h.01M169.9 81.2h.01M163.5 129h.01M162.8 132.2h.01M163 138.2h.01M168.4 41.9h.01M165.2 37.6h.01M55.8 97.8h.01M73.9 100.1h.01M31.6 47.8h.01M76 210.5h.01M88.4 223h.01M87.6 229.6h.01M89.3 224.3h.01M148.3 199.6h.01M151.6 213h.01M164.1 224.1h.01M187.9 224.6h.01M97.5 66.5h.01M42.6 46.5h.01M45 48.5h.01M143.2 109.5h.01" stroke="#000" stroke-width="1.75" stroke-linecap="square" fill="none"/>
<rect x="153.5" y="167.2" width="2.0" height="2.1" fill="#f00"/>
<g font-family="Liberation Serif, serif" fill="#f00" stroke="#f00" stroke-width="0.1">
<text transform="translate(154.6 162.4) scale(1 1.09)" font-size="3.7" text-anchor="middle">VAL 31(A)</text>
<text transform="translate(154.6 165.7) scale(1 1.09)" font-size="3.7" text-anchor="middle">GLU 460 (A)</text>
</g>
<g font-family="Liberation Serif, serif" fill="#000" stroke="#000" stroke-width="0.09">
<text transform="translate(53.4 269) scale(1 1.09)" font-size="3.95" text-anchor="start">Residues in most favoured regions  [A,B,L]</text>
<text transform="translate(166.4 269) scale(1 1.09)" font-size="3.95" text-anchor="end">290</text>
<text transform="translate(186.5 269) scale(1 1.09)" font-size="3.95" text-anchor="end">96.0%</text>
<text transform="translate(53.4 274.4) scale(1 1.09)" font-size="3.95" text-anchor="start">Residues in additional allowed regions  [a,b,l,p]</text>
<text transform="translate(166.4 274.4) scale(1 1.09)" font-size="3.95" text-anchor="end">10</text>
<text transform="translate(186.5 274.4) scale(1 1.09)" font-size="3.95" text-anchor="end">3.3%</text>
<text transform="translate(53.4 279.1) scale(1 1.09)" font-size="3.95" text-anchor="start">Residues in generously allowed regions  [~a,~b,~l,~p]</text>
<text transform="translate(166.4 279.1) scale(1 1.09)" font-size="3.95" text-anchor="end">0</text>
<text transform="translate(186.5 279.1) scale(1 1.09)" font-size="3.95" text-anchor="end">0.0%</text>
<text transform="translate(53.4 283.9) scale(1 1.09)" font-size="3.95" text-anchor="start">Residues in disallowed regions</text>
<text transform="translate(166.4 283.9) scale(1 1.09)" font-size="3.95" text-anchor="end">2</text>
<text transform="translate(186.5 283.9) scale(1 1.09)" font-size="3.95" text-anchor="end">0.7%</text>
<text transform="translate(53.4 294.8) scale(1 1.09)" font-size="3.95" text-anchor="start">Number of non-glycine and non-proline residues</text>
<text transform="translate(166.4 294.8) scale(1 1.09)" font-size="3.95" text-anchor="end">302</text>
<text transform="translate(186.5 294.8) scale(1 1.09)" font-size="3.95" text-anchor="end">100.0%</text>
<text transform="translate(53.4 301.6) scale(1 1.09)" font-size="3.95" text-anchor="start">Number of end-residues (excl. Gly and Pro)</text>
<text transform="translate(166.4 301.6) scale(1 1.09)" font-size="3.95" text-anchor="end">2</text>
<text transform="translate(53.4 308.8) scale(1 1.09)" font-size="3.95" text-anchor="start">Number of glycine residues (shown as triangles)</text>
<text transform="translate(166.4 308.8) scale(1 1.09)" font-size="3.95" text-anchor="end">15</text>
<text transform="translate(53.4 313.5) scale(1 1.09)" font-size="3.95" text-anchor="start">Number of proline residues</text>
<text transform="translate(166.4 313.5) scale(1 1.09)" font-size="3.95" text-anchor="end">18</text>
<text transform="translate(53.4 323.8) scale(1 1.09)" font-size="3.95" text-anchor="start">Total number of residues</text>
<text transform="translate(166.4 323.8) scale(1 1.09)" font-size="3.95" text-anchor="end">337</text>
<text transform="translate(166.4 288.4) scale(1 1.09)" font-size="3.95" text-anchor="end">----</text>
<text transform="translate(186.5 288.4) scale(1 1.09)" font-size="3.95" text-anchor="end">------</text>
<text transform="translate(166.4 318) scale(1 1.09)" font-size="3.95" text-anchor="end">----</text>
<text transform="translate(120 337.8) scale(1 1.09)" font-size="3.75" text-anchor="middle">Based on an analysis of 118 structures of resolution of at least 2.0 Angstroms</text>
<text transform="translate(120 342.5) scale(1 1.09)" font-size="3.75" text-anchor="middle">and R-factor no greater than 20%, a good quality model would be expected</text>
<text transform="translate(120 347.4) scale(1 1.09)" font-size="3.75" text-anchor="middle">to have over 90% in the most favoured regions.</text>
</g>
<clipPath id="cb"><rect x="290.4" y="3.4" width="261.1" height="290.8"/></clipPath>
<g clip-path="url(#cb)">
<polygon fill="#b0c4de" points="319.14,45.16 321.26,50.31 323.38,53.39 325.51,61.74 327.63,64.89 329.75,67.27 331.88,71.3 334,74.62 336.12,77.49 338.25,84.83 340.37,88.48 342.49,90.68 344.62,91.16 346.74,92.75 348.86,93.81 350.99,97.42 353.11,100.09 355.23,101.73 357.35,105.63 359.48,107.4 361.6,112.39 363.72,110.66 365.85,115.77 367.97,114.29 370.09,117.93 372.22,121.93 374.34,125.05 376.46,126.57 378.59,126.7 380.71,128.55 382.83,133.85 384.95,136.25 387.08,135.75 389.2,136.83 391.32,139.27 393.45,141.54 395.57,140.92 397.69,145.46 399.82,145.31 401.94,145.85 404.06,144.59 406.19,147.66 408.31,147.78 410.43,151.34 412.55,153.93 414.68,155.17 416.8,152.67 418.92,155.35 421.05,158.77 423.17,161.6 425.29,160.37 427.42,160.74 429.54,163.4 431.66,165.58 433.79,164.68 435.91,164.44 438.03,169.29 440.16,171.45 442.28,170.97 444.4,171.66 446.52,171.4 448.65,175.11 450.77,173.06 452.89,174.5 455.02,176.88 457.14,179.61 459.26,176.58 461.39,181.13 463.51,179.47 465.63,183.66 467.76,184.75 469.88,182.93 472,186.45 474.12,184 476.25,187.48 478.37,190.17 480.49,191.02 482.62,191.21 484.74,191.13 486.86,190.87 488.99,196.39 491.11,196.32 493.23,198.53 495.36,195.72 497.48,201.5 499.6,204.16 501.73,206.29 503.85,206.7 505.97,206.19 505.97,220.8 503.85,223.72 501.73,224.21 499.6,226.63 497.48,230.67 495.36,232.05 493.23,228.24 491.11,229.89 488.99,234.31 486.86,230.69 484.74,232.41 482.62,232.5 480.49,232.81 478.37,233.81 476.25,234.83 474.12,233.28 472,232.75 469.88,228.78 467.76,233.15 465.63,227.8 463.51,231.74 461.39,230.41 459.26,227.25 457.14,226.78 455.02,228.67 452.89,230.53 450.77,227.69 448.65,227.9 446.52,224.35 444.4,228.2 442.28,226.83 440.16,223.38 438.03,228.16 435.91,225.68 433.79,223.09 431.66,223.09 429.54,227.05 427.42,226.82 425.29,226.4 423.17,221.15 421.05,224.75 418.92,221.64 416.8,220.48 414.68,223.37 412.55,223.4 410.43,219.05 408.31,220.67 406.19,222.37 404.06,219.36 401.94,221.02 399.82,220.21 397.69,220.75 395.57,215.33 393.45,213.35 391.32,213.94 389.2,210.79 387.08,214.74 384.95,212.12 382.83,209.33 380.71,205.13 378.59,203.75 376.46,205.66 374.34,205.05 372.22,202.61 370.09,200.85 367.97,196.93 365.85,200.54 363.72,196.42 361.6,196.27 359.48,195.26 357.35,195.02 355.23,195.35 353.11,195.92 350.99,194.93 348.86,193.63 346.74,190.14 344.62,193.18 342.49,191.97 340.37,188.48 338.25,191.16 336.12,191.96 334,191.88 331.88,188.6 329.75,189.66 327.63,185.59 325.51,185.89 323.38,185.03 321.26,188.97 319.14,189.9"/>
<path d="M436.73 220.42V224.33M344.21 185.7V195.12M477.16 227.08V233.25M444.33 221.56V225.01M390.76 209.55V220.53M452.69 223.03V232.8M451.92 222.89V238.22M425.65 219.06V222.62M367.8 194.46V198.19M374.38 198.78V204.31M414.44 217.55V223.31M346.59 186.87V200.59M435.33 220.25V226.3M460.52 224.54V228.5M447.89 222.18V226.98M354.37 190.7V197.8M368.51 194.93V201.09M360.13 192.45V202.78M352.01 189.54V193.6M422.41 218.66V222.74M417.94 218.11V222.9M459.84 224.4V227.8M361.25 192.73V200.49M503.65 220.42V224.28M493.26 225.92V230.85M355.57 191.29V206.22M414.6 217.58V222.82M477.18 227.08V232.61M409.31 216.67V223.98M417.91 218.11V224.49M356.72 191.61V196.39M500.83 223.12V226.08M445.3 221.72V232.17M364.92 193.63V197.99M460.74 224.59V228.43M449.26 222.42V229.69M439.71 220.79V225.37M470.74 226.77V231.16M473.54 227.18V230.58M354.84 190.93V205.04M372.73 197.7V202.65M410.47 216.87V220.31M392.05 210.24V227.05M413.74 217.43V221.39M395.52 211.95V219.08M406.98 216.28V224.91M361.48 192.78V195.86M484.1 226.88V230.71M466.27 225.8V230.02M494.45 225.61V237.78M349.34 188.22V193.52M392.48 210.45V216.94M354.02 190.53V203.93M347.01 187.07V191.9M368.15 194.69V198.62M426.95 219.22V222.72M410.78 216.93V221.01M462.96 225.08V228.4M409.39 216.69V223.3M360.02 192.42V195.6M438.17 220.6V228.7M423.61 218.81V222.55M389.09 208.45V214.94M387.99 207.73V214.82M380.62 202.89V206.29M424.74 218.95V227.02M410.04 216.8V228.78M501.28 222.68V234.67M495.22 225.42V229.53M442.07 221.16V224.99M447.8 222.17V231.82M356.67 191.59V202.6M375.02 199.21V204.64M359.3 192.25V199.55M454.16 223.29V226.37M412.06 217.14V221.96M462.68 225.02V232.2M435.27 220.24V226.1M468.62 226.31V249.16M478.51 227.04V231.06M458.6 224.13V238.38M484.96 226.86V231.03M420.15 218.38V222.81M472.06 227.06V237.49M451.3 222.78V226.45M385.38 138.03V135.67M352.79 104.16V97.33M365.13 117.25V108.01M384.04 136.65V127.39M379.29 131.78V128.64M395.82 145.26V143.27M403.12 150.05V146.27M327.3 67.13V57.54M392.3 142.94V141M497.21 202.97V200.02M370.39 122.65V120.61M342.88 92.92V86.19M429.38 166.51V161.85M369.17 121.39V118.15M498.96 204.74V201M502.43 208.31V197.93M347.38 98.09V88.85M328.81 70.84V64.09M470.18 188.1V181.55M423.6 162.95V154.52M352.71 104.08V99.14M372.7 125.01V121.1M359.33 111.15V104.44M427.79 165.53V157.74M437.67 171.28V165.8M490.32 198.92V190.5M426.65 164.83V161.36M491.38 199.54V195.81M343.34 93.45V89.94M451.68 178.76V166.44M440.8 172.95V166.8M493.08 200.54V192.77M404.9 151.22V146.88M461.23 183.69V180.27M344.72 95.04V89.35M470.07 188.04V185M447.61 176.58V166M347.92 98.72V96.21M413.42 156.68V153.17M495.25 201.81V184.38M404.93 151.24V143.2M438.29 171.61V168.93M499.26 205.06V202.38M338.66 87.81V83.54M328.23 69.43V64.95M398.91 147.29V133.39M399.2 147.47V138.19M464.84 185.46V180.11M367.67 119.85V116.5M413.15 156.51V152.63M440.78 172.94V168.27M382.95 135.53V129.98M503.7 209.61V206.8M385.21 137.86V135.88M341.85 91.73V89.57M400.85 148.56V139.61M450.12 177.93V162.87M475.09 190.52V185.16M429.09 166.33V164.35M393.8 143.93V140.81" stroke="#b0c4de" stroke-width="2.7" stroke-linecap="round" fill="none"/>
<path d="M318.43 42.65h.01M318.42 45.23h.01M319.07 46.3h.01M319.29 47.47h.01M318.94 42.13h.01M319.25 46.7h.01M319.37 45h.01M319.97 46.78h.01M319.68 47.38h.01M320.09 49.26h.01M320.23 43.61h.01M319.94 49.57h.01M320.88 49.29h.01M320.6 44.83h.01M321.24 48.18h.01M321.43 48.96h.01M321.21 50.42h.01M321.68 45.41h.01M321.59 46.55h.01M321.61 47.83h.01M321.5 49.39h.01M322.11 50.28h.01M321.81 50.83h.01M321.91 50.94h.01M322.48 50.04h.01M322.03 50.67h.01M322.49 49.24h.01M322.29 51.4h.01M322.59 47.82h.01M322.73 50.05h.01M323.21 50.81h.01M323.73 52h.01M323.33 52.25h.01M323.39 51.7h.01M324.39 53.74h.01M324.29 56.45h.01M324.38 55.85h.01M324.95 55.99h.01M324.44 52.9h.01M324.47 55.88h.01M325.2 54.07h.01M325.03 53.56h.01M324.99 59.1h.01M325.72 52.78h.01M325.09 57.47h.01M326.13 57.48h.01M325.66 60.26h.01M326.13 57.43h.01M326.15 61.43h.01M326.47 58.84h.01M326.33 59.71h.01M327.06 57.53h.01M326.98 56.97h.01M327.48 57.45h.01M327.21 59.42h.01M327.21 62.79h.01M327.56 63.13h.01M327.81 62.93h.01M327.86 61.05h.01M328.35 62h.01M328.04 64.13h.01M328.22 61.82h.01M328.76 62.16h.01M329.18 61.87h.01M329.31 63.29h.01M328.86 66.72h.01M329.94 66.44h.01M329.99 63.74h.01M330.05 69.05h.01M329.75 63.6h.01M330.38 70.47h.01M330.4 65.11h.01M330.09 64.68h.01M330.84 66.26h.01M330.13 65.72h.01M331.09 69.3h.01M330.7 69.32h.01M330.5 68.43h.01M331.35 70.3h.01M331.54 71.06h.01M330.81 67.06h.01M331.53 70.6h.01M331.69 72.79h.01M331.5 73.22h.01M332.01 72.31h.01M332.81 70.18h.01M332.83 71.32h.01M333.05 70.07h.01M332.59 69.57h.01M333.51 73.87h.01M333.12 74.39h.01M332.96 74.92h.01M333.46 74.5h.01M333.42 76.36h.01M333.31 72.09h.01M333.86 68.45h.01M333.74 74.2h.01M334.32 75.43h.01M334.21 73.04h.01M334.88 72.1h.01M334.09 76.18h.01M335.06 76.52h.01M334.72 75.34h.01M335 74.08h.01M335.32 75.31h.01M335.64 79.27h.01M334.99 73.35h.01M335.56 77.36h.01M335.91 78.65h.01M335.94 71.79h.01M335.84 74.71h.01M336.49 78.32h.01M336.42 75.83h.01M336.96 80.26h.01M337.03 80.77h.01M337.06 76.02h.01M337.3 79.15h.01M336.93 77.48h.01M337.15 81.48h.01M337.72 81.72h.01M337.55 81.88h.01M338.28 80.43h.01M338.38 79.34h.01M338.84 79.21h.01M338.23 82.13h.01M339.14 83.6h.01M339.31 81.02h.01M339.34 83.02h.01M339.37 83.66h.01M339.4 85.93h.01M340 84.61h.01M339.96 85.04h.01M340.01 84.38h.01M340.52 79.34h.01M339.76 85.73h.01M340.22 86.75h.01M339.94 85.99h.01M340.73 85.63h.01M340.43 86.17h.01M341.38 83.73h.01M340.9 87.62h.01M341.97 88.01h.01M341.18 86.32h.01M342.11 80.02h.01M342.33 86.83h.01M341.88 84.28h.01M341.98 83.92h.01M342.42 84.84h.01M342.29 87.11h.01M342.6 88.16h.01M342.73 83.27h.01M343.08 89.26h.01M342.9 86.74h.01M343.06 89.05h.01M343.17 87.71h.01M343.97 83.18h.01M343.39 89.95h.01M344.36 89.78h.01M343.9 87.37h.01M343.85 90.27h.01M344.69 87.13h.01M344.18 85.28h.01M344.8 85.97h.01M344.98 84.72h.01M345.04 86.73h.01M345.21 91.27h.01M345.22 88.65h.01M345.93 85.01h.01M345.34 90.93h.01M345.8 92.78h.01M345.78 92.95h.01M346.51 90.77h.01M346.36 91.9h.01M346.83 92.31h.01M346.97 92.28h.01M347 90.93h.01M346.62 91.92h.01M346.96 94.3h.01M347.4 92.27h.01M347.12 94.3h.01M347.28 92.86h.01M347.36 92.25h.01M348.13 93.47h.01M347.54 94.07h.01M348.04 87.95h.01M348.61 95.05h.01M348.76 89.93h.01M348.52 94.45h.01M348.77 87.05h.01M349.1 95.14h.01M349 93.55h.01M349.8 93.27h.01M349.88 93.76h.01M349.79 93.94h.01M350.54 97.76h.01M350.68 97.84h.01M350.57 95.01h.01M350.91 90.77h.01M351.34 97.64h.01M351.18 96.15h.01M351.37 97.18h.01M351.39 99.64h.01M351.82 98.85h.01M351.73 100.43h.01M352.67 93.22h.01M352.26 97.53h.01M353.08 97.96h.01M353.42 99.02h.01M353.77 97.21h.01M353.24 96.9h.01M353.22 100.46h.01M353.4 97.11h.01M353.36 99.06h.01M353.98 98.01h.01M354.07 97.54h.01M354.7 97.58h.01M354.26 99.51h.01M354.49 98.44h.01M355.05 97.88h.01M354.97 100.92h.01M355.67 96.91h.01M355.77 101.45h.01M355.51 100.16h.01M356.25 95.97h.01M355.96 103.83h.01M356.34 98.44h.01M356.62 104.14h.01M356.41 99.03h.01M356.58 101.62h.01M357.03 102.89h.01M357.45 105.39h.01M357.5 100.1h.01M357.01 104.57h.01M357.13 103.59h.01M357.74 99.88h.01M357.45 99.77h.01M358.09 104.31h.01M357.73 101.22h.01M357.98 105.61h.01M358.8 104.34h.01M359.04 106.88h.01M359.19 100.14h.01M359.18 106.2h.01M359.26 104.82h.01M359.47 106.62h.01M359.68 97.96h.01M359.71 104.83h.01M360.29 105.15h.01M359.92 103.05h.01M360.34 105.61h.01M360.34 103.89h.01M360.79 99.31h.01M361 98.01h.01M360.97 109.66h.01M361.35 106.3h.01M361.81 98.88h.01M362.18 104.86h.01M362.1 106.65h.01M362.25 103.53h.01M362.85 107.93h.01M362.45 105.89h.01M362.56 107.67h.01M363.16 111.98h.01M363.08 106.14h.01M363.38 108.03h.01M363.05 110.96h.01M363.77 112.02h.01M363.26 110.18h.01M364.36 104.73h.01M364.47 110.56h.01M364.54 110.36h.01M364.76 111.38h.01M365.06 105.98h.01M364.76 112.43h.01M365.4 113.16h.01M365.52 113.92h.01M365.88 113.42h.01M365.66 107.57h.01M366.02 108.65h.01M365.9 115.04h.01M366.19 103.47h.01M367.19 112.32h.01M366.92 102.66h.01M367.72 116.03h.01M367.12 111.2h.01M367.41 108.6h.01M367.91 116.01h.01M368.41 107.07h.01M367.62 111.23h.01M368.41 103.9h.01M367.91 112.26h.01M368.7 105.53h.01M368.89 116.79h.01M368.87 113.36h.01M369.32 113.14h.01M369.12 111.65h.01M368.69 104.29h.01M368.99 117.18h.01M369.07 113.5h.01M369.61 117.8h.01M369.69 115.84h.01M370.02 113.79h.01M369.73 113.59h.01M370.22 116.27h.01M370.6 113.58h.01M370.63 118.07h.01M371.01 118.6h.01M371.11 117.55h.01M371.25 115.67h.01M371.13 118.97h.01M371.4 116.94h.01M371.45 114.36h.01M371.8 120.01h.01M371.28 119.91h.01M371.83 115.4h.01M371.55 120.42h.01M372.56 119.98h.01M372.78 114h.01M373.08 119.24h.01M372.74 120.63h.01M372.64 120.56h.01M372.91 122h.01M373.36 119.88h.01M373.63 120.37h.01M373.59 121.22h.01M373.89 117.41h.01M373.94 114.64h.01M374.12 122.55h.01M374.05 119.88h.01M374.53 121.77h.01M374.64 117.32h.01M374.48 119.52h.01M374.69 117.51h.01M375.17 113.07h.01M375.37 114.47h.01M374.83 120.77h.01M375.98 111.07h.01M375.82 120.07h.01M375.68 119.75h.01M376.24 125.02h.01M375.99 125.41h.01M375.93 123.59h.01M376.04 113.72h.01M376.66 125.06h.01M376.52 125.66h.01M376.81 120.28h.01M377.47 118.36h.01M377.8 126.8h.01M377.56 121.64h.01M377.85 127.59h.01M377.97 125.21h.01M378.73 127.03h.01M378.86 114.34h.01M379.28 124.93h.01M379.06 126.58h.01M379.22 128.09h.01M379.3 124.23h.01M379.13 116.88h.01M379.28 127.19h.01M379.28 118.62h.01M379.07 124.21h.01M379.48 126.63h.01M379.5 123h.01M380.35 129h.01M380.19 118.61h.01M380.56 123.48h.01M380.43 126.36h.01M380.45 124.34h.01M380.37 126.59h.01M380.91 129.03h.01M380.61 125.94h.01M381.1 122.04h.01M381.5 128.27h.01M381.1 123.4h.01M382.03 123.36h.01M381.23 124.64h.01M382.05 130.56h.01M381.69 127.8h.01M381.84 122.77h.01M382.83 131.94h.01M382.4 119.62h.01M383.05 118.5h.01M382.37 125.85h.01M382.92 130.87h.01M383.38 131.77h.01M383.01 127.91h.01M383.27 132.4h.01M383.47 121.78h.01M383.72 130.8h.01M384.11 132.24h.01M384.03 128.43h.01M384.44 129.43h.01M384.56 132.35h.01M384.7 132.85h.01M384.93 127.66h.01M384.56 128.77h.01M385.3 133.14h.01M385.58 118.4h.01M385.21 133.92h.01M385.3 129.37h.01M385.54 124.12h.01M385.92 117.94h.01M385.78 130.53h.01M386.71 134.3h.01M386.26 131.04h.01M386.19 133.75h.01M386.84 136.01h.01M387.11 131.38h.01M386.82 130.02h.01M386.94 125.72h.01M386.87 131.04h.01M387.74 123.6h.01M387.64 135.85h.01M387.81 132.41h.01M388.37 124.04h.01M387.9 122.06h.01M388.29 131.84h.01M388.15 134.21h.01M389.07 133.18h.01M388.96 133.39h.01M389.27 126.2h.01M389.13 130.61h.01M389.34 132.75h.01M389.52 135.97h.01M389.61 135.4h.01M390.2 138.28h.01M390.47 136.7h.01M390.58 134.65h.01M390.14 138.11h.01M390.49 134.86h.01M390.79 124.4h.01M390.75 122.14h.01M391.74 137.02h.01M391.92 137.54h.01M391.93 123.32h.01M391.58 134.79h.01M392.43 134.55h.01M392.29 129.93h.01M392.3 139.67h.01M392.15 135.44h.01M393.17 135.68h.01M392.94 130.68h.01M392.86 128.11h.01M393.12 137.96h.01M393.2 131.33h.01M393.77 136.65h.01M393.75 136.46h.01M394.12 129.79h.01M394.26 135.92h.01M394.15 132.29h.01M394.28 137.46h.01M394.17 136.72h.01M394.62 140.24h.01M394.9 135.68h.01M395.59 132.55h.01M395.68 140.67h.01M395.16 135.18h.01M396.03 135.31h.01M396.24 140.06h.01M395.72 139.56h.01M396.21 139.48h.01M396.61 138.15h.01M396.74 136.92h.01M396.73 140.26h.01M397.38 139.78h.01M396.52 137.09h.01M397.3 140.63h.01M397.53 143.03h.01M398.04 141.15h.01M397.88 135.57h.01M397.97 140.7h.01M398.29 138.62h.01M398.73 138.5h.01M398.58 137.95h.01M398.3 141.47h.01M398.95 139.21h.01M398.71 138.04h.01M399.43 142.77h.01M399.28 132.99h.01M399.15 125.71h.01M400.21 138.69h.01M400.52 139.46h.01M400.46 139.3h.01M400.61 136.88h.01M400.93 145.03h.01M400.88 131.14h.01M401.3 140.56h.01M401.46 145.68h.01M402.17 141.75h.01M402 142.17h.01M401.77 133.87h.01M402.19 144.58h.01M402.35 140.36h.01M402.87 144.67h.01M402.32 139.35h.01M402.65 142.89h.01M402.58 134.92h.01M402.98 142.39h.01M402.92 142.99h.01M403.41 145.06h.01M403.64 127.63h.01M404.22 142.77h.01M404.11 143.9h.01M404.44 137.6h.01M404.6 148.05h.01M404.45 134.35h.01M404.63 134.03h.01M405.31 144.38h.01M405.53 143.92h.01M405.5 147.5h.01M405.68 139.49h.01M405.49 136.31h.01M405.79 142.63h.01M405.9 140.28h.01M406.55 132.83h.01M406.36 148.88h.01M406.23 138.8h.01M406.72 148.02h.01M406.94 147.72h.01M407.36 149.51h.01M407.5 139.28h.01M407.66 138.96h.01M408.35 143.92h.01M407.94 148.42h.01M408.75 138.45h.01M407.95 146.32h.01M408.44 144.97h.01M408.43 135.01h.01M408.78 142.34h.01M408.77 148.4h.01M409.41 133.85h.01M409.45 149.3h.01M409.27 136.51h.01M409.67 137.79h.01M409.64 149.45h.01M410.08 148.59h.01M410.86 140.34h.01M410.62 140.93h.01M410.44 147h.01M410.99 151.12h.01M411.24 141.63h.01M410.78 146.33h.01M411.42 146.47h.01M411.27 147.06h.01M411.68 148.63h.01M411.22 149.42h.01M412.18 140.46h.01M411.48 147.98h.01M411.95 147.61h.01M411.91 143.4h.01M411.97 150.81h.01M412.35 149.97h.01M413.05 152.39h.01M412.68 152h.01M413.2 152.39h.01M413.12 149.72h.01M413.69 149.81h.01M413.36 147.93h.01M413.43 149.55h.01M413.96 147.69h.01M413.54 150.79h.01M413.69 152.2h.01M414.09 144.68h.01M414.34 151.48h.01M414.76 142.12h.01M414.45 151.28h.01M414.77 151.01h.01M415.17 148.87h.01M414.72 144.93h.01M414.96 150.28h.01M415.66 153.37h.01M416.01 143.59h.01M416.04 140.22h.01M416.4 152.53h.01M416.51 153.93h.01M416.74 148.13h.01M416.88 152.71h.01M416.38 148.88h.01M417.05 148.64h.01M417.52 142.45h.01M417.56 151.09h.01M417.55 145.87h.01M417.79 152.14h.01M417.61 155.12h.01M417.7 148.94h.01M418.18 154.82h.01M417.97 152.86h.01M418.16 152.76h.01M418.31 156.18h.01M418.11 150.76h.01M418.53 151.7h.01M419.17 151.63h.01M419.02 152.32h.01M419.41 150.47h.01M419.2 143.35h.01M419.22 145.97h.01M419.82 155.48h.01M419.5 150.7h.01M419.74 154.05h.01M419.7 145.32h.01M420.34 151.15h.01M420.54 142.9h.01M420.21 152.87h.01M420.52 151.06h.01M421.44 139.1h.01M421.69 154.19h.01M421.28 148.14h.01M421.78 157.63h.01M421.56 157.12h.01M422.08 154.23h.01M421.68 158.26h.01M422.46 157.31h.01M422.53 157.16h.01M422.34 150.09h.01M423.01 151.13h.01M422.76 158.28h.01M423.24 155.21h.01M423.59 158.74h.01M423.08 153.67h.01M423.01 155.58h.01M423.32 156.43h.01M423.49 159.89h.01M423.59 156.69h.01M423.64 157.17h.01M424.62 158.9h.01M424.74 150.68h.01M424.67 153.32h.01M425.37 157.02h.01M425.1 148.42h.01M425.39 155.92h.01M425.36 159.77h.01M426.21 154.53h.01M426.45 160.04h.01M426.53 157.13h.01M426.34 156.77h.01M426.54 152.12h.01M426.85 155.42h.01M427.07 158.99h.01M426.65 144.35h.01M426.79 155.19h.01M427.49 154.08h.01M427.71 156.74h.01M427.59 148.58h.01M427.76 157.3h.01M427.98 152.39h.01M428.59 152.5h.01M428.9 152.1h.01M428.92 159.31h.01M428.98 148.14h.01M429.41 159.89h.01M429.51 158.06h.01M430 149.6h.01M430.09 149.34h.01M430.45 151.5h.01M429.9 161.59h.01M430.24 148.08h.01M430.81 145.74h.01M430.91 161.72h.01M431.32 157.17h.01M431.25 163.31h.01M431.11 163.44h.01M431.91 156.15h.01M431.54 163.21h.01M432.56 162.29h.01M432.47 148.58h.01M432.66 161.29h.01M433.01 151.44h.01M432.55 155.18h.01M433.15 164.08h.01M432.71 164.79h.01M433.02 163.78h.01M433.73 156.34h.01M434.14 153.08h.01M434.31 162.81h.01M434.11 147.74h.01M434.61 162.66h.01M434.06 164.43h.01M434.66 160.95h.01M434.71 158.84h.01M434.63 160.92h.01M435.07 165.53h.01M434.7 164.04h.01M435.29 165.89h.01M435.07 165.1h.01M435.51 160.44h.01M435.21 158.67h.01M435.46 158.43h.01M435.72 167.41h.01M435.93 162.69h.01M436.38 157.51h.01M436.41 163.41h.01M437.08 167.35h.01M436.87 163.58h.01M437.11 166.53h.01M436.96 163.73h.01M437.44 162.47h.01M437.5 167.52h.01M437.55 162.78h.01M437.69 162.2h.01M437.71 162.94h.01M437.63 165.51h.01M438.01 168.44h.01M438.02 157.89h.01M437.8 166.93h.01M438.46 167.39h.01M438.55 163.7h.01M438.55 167.59h.01M439.19 159.59h.01M439.06 168.52h.01M439.05 164.29h.01M439.91 164.98h.01M439.94 160.87h.01M439.51 168.12h.01M439.94 168.59h.01M439.84 168.59h.01M440.58 159.55h.01M440.11 166.53h.01M440.97 165.19h.01M441.08 158.22h.01M440.7 165.41h.01M441.18 168.96h.01M441.37 168.26h.01M441.7 169.08h.01M441.64 159.09h.01M441.95 166.56h.01M441.86 161.91h.01M442.63 154.19h.01M442.61 167.11h.01M442.72 160.58h.01M442.81 164.74h.01M442.57 171.08h.01M443.06 168.16h.01M442.88 169.46h.01M443.07 168.82h.01M443.73 164.14h.01M444.08 166.28h.01M444.39 162.79h.01M444.41 166.73h.01M444.22 169.43h.01M444.59 171.85h.01M445.05 168.08h.01M444.41 158.64h.01M445.37 168.28h.01M445.09 172.36h.01M445.14 157.67h.01M445.58 171.28h.01M445.52 167.29h.01M445.72 164.42h.01M446.45 167.59h.01M445.84 160.24h.01M446.98 162.28h.01M446.61 168.91h.01M446.83 166.49h.01M447.45 159.16h.01M447.14 168.76h.01M447.05 172.1h.01M448.1 166.06h.01M447.68 169.42h.01M447.88 171.36h.01M447.9 162.92h.01M448.22 169.88h.01M448.71 162.84h.01M449 168.25h.01M449.12 164.06h.01M448.96 164.5h.01M449.04 173.41h.01M449.55 169.9h.01M449.55 173.57h.01M450.33 166.47h.01M450.64 162.9h.01M450.09 165.55h.01M450.07 168.61h.01M450.44 174.4h.01M450.69 160.84h.01M451.09 160.71h.01M451.84 172.47h.01M451.46 158.42h.01M451.51 172.38h.01M452.12 165.07h.01M452.65 175.04h.01M452.78 166.92h.01M452.08 172.44h.01M452.35 169.01h.01M453.12 163.38h.01M452.99 162.46h.01M453.22 175.87h.01M453.73 170.16h.01M453.39 173.79h.01M453.19 174.37h.01M453.85 160.12h.01M453.94 171.72h.01M454.22 172.16h.01M454.36 171.66h.01M454.9 177.19h.01M454.61 169.66h.01M454.91 177.34h.01M454.92 170.09h.01M455.59 158.12h.01M455.83 167.45h.01M455.68 167.28h.01M456.23 172.27h.01M455.77 177.26h.01M456.57 169.21h.01M457.11 169.17h.01M457 173.21h.01M456.99 172.55h.01M457.26 167.77h.01M457.58 170.69h.01M457.72 173.15h.01M457.97 169.9h.01M458.19 167.99h.01M458.06 172.98h.01M458.34 176.14h.01M458.22 168.17h.01M458.81 173.76h.01M458.78 177.6h.01M458.99 173.95h.01M459.57 175.56h.01M459.07 178.47h.01M460.03 178.17h.01M459.5 178.18h.01M459.84 165.68h.01M460.16 174.35h.01M460.68 177.01h.01M460.39 176.85h.01M460.92 178.24h.01M460.55 175.59h.01M460.67 174.69h.01M461.04 171.86h.01M461.22 178.6h.01M461.08 164.67h.01M461.46 170.83h.01M461.24 175.16h.01M462.2 176.78h.01M462.13 177.66h.01M461.97 176.65h.01M461.97 177.67h.01M462.14 178h.01M462.86 177.28h.01M462.88 173.47h.01M463.48 169.69h.01M463.43 173.48h.01M463.51 180.41h.01M463.53 173.72h.01M463.99 180.94h.01M463.71 177.61h.01M464.3 175.31h.01M464.59 175.61h.01M464.46 175.99h.01M464.92 178.62h.01M465.09 165.58h.01M465.42 180.1h.01M464.76 180.47h.01M465.02 180.79h.01M465.46 177.49h.01M465.8 166.64h.01M465.45 176.56h.01M466.18 175.65h.01M466.69 181.25h.01M466.36 180.39h.01M467.04 163.76h.01M466.4 180.92h.01M467.15 172.98h.01M466.97 177.57h.01M467.39 180.91h.01M467.62 181.54h.01M466.86 181.62h.01M467.4 178.18h.01M467.83 177.59h.01M467.71 181.88h.01M467.8 178.81h.01M468.14 180.16h.01M468.3 179.05h.01M468.27 178.75h.01M468.98 181.11h.01M469.35 177.63h.01M468.75 183.35h.01M468.98 180.54h.01M469.73 169.33h.01M469.7 178.6h.01M469.88 182.8h.01M469.92 181.36h.01M469.78 179.32h.01M470.07 184.38h.01M470.62 183.75h.01M470.51 184.86h.01M471.21 175.01h.01M470.64 172.7h.01M471.61 168.78h.01M471.37 183.42h.01M471.59 176.58h.01M471.36 179.59h.01M471.44 184.21h.01M471.9 185.87h.01M472.13 182.91h.01M472.28 174.97h.01M472.45 182.54h.01M472.64 178.98h.01M472.12 180.54h.01M473.18 185.6h.01M472.75 180.7h.01M472.94 181.22h.01M472.8 185.91h.01M473.51 185.28h.01M473.31 171.93h.01M473.98 180.74h.01M474.29 175.86h.01M474.33 182.57h.01M474.54 178.33h.01M474.2 170.71h.01M474.83 176.66h.01M474.41 181.82h.01M474.89 171.79h.01M475.1 183.31h.01M475.03 182.73h.01M474.69 183.65h.01M474.96 183.54h.01M475.42 179.18h.01M475.46 175.26h.01M476.33 179.03h.01M475.92 181.64h.01M475.89 182.1h.01M476.52 182h.01M476.17 184.61h.01M476.73 182.7h.01M476.86 176.69h.01M476.71 186.82h.01M477.19 187.23h.01M477.85 170.07h.01M477.73 186.52h.01M478.14 177.89h.01M477.46 186.49h.01M478.15 181.16h.01M477.74 182.97h.01M478.12 184.12h.01M478.81 186.9h.01M478.7 186.95h.01M478.41 189.28h.01M479.38 185.99h.01M479.04 183.9h.01M478.85 188.83h.01M479.46 182.18h.01M479.77 187.42h.01M479.46 186.17h.01M479.5 188.14h.01M479.86 178.72h.01M480.53 190.13h.01M480.76 183.99h.01M480.86 187.55h.01M481.06 185.79h.01M480.58 188.12h.01M480.88 181.95h.01M481.67 186.97h.01M481.85 185.02h.01M481.9 189.9h.01M481.99 188.86h.01M482.41 189.27h.01M482.82 181.7h.01M482.25 190.91h.01M482.62 189.23h.01M482.8 180.73h.01M483.32 180.97h.01M483.76 188.38h.01M484.07 189.74h.01M484.34 191.7h.01M484.41 177.44h.01M484.59 183.71h.01M484.27 190.41h.01M484.61 174.29h.01M485.31 185.5h.01M485.18 184.19h.01M485.8 191.57h.01M485.47 191.82h.01M485.87 189.97h.01M485.8 191.41h.01M486.7 176.74h.01M486.82 191.16h.01M486.37 185.37h.01M487.24 189.32h.01M487.53 187.88h.01M487.04 194.14h.01M487.6 181.67h.01M487.99 192.41h.01M488.1 187.6h.01M487.43 191.52h.01M488.38 189.21h.01M488.68 186.59h.01M488.11 191.04h.01M489.18 187.98h.01M489.11 191.25h.01M489.39 189.46h.01M489.33 189.24h.01M490.01 179.42h.01M489.88 190.39h.01M490.38 194.73h.01M490.24 178.74h.01M490.77 189.56h.01M490.72 182.99h.01M490.77 179.63h.01M490.9 192.24h.01M491.39 186.8h.01M491.72 196.52h.01M491.7 193.11h.01M492.23 193.67h.01M492.12 195.12h.01M492.57 195.23h.01M492.3 195.39h.01M492.21 195.96h.01M492.58 184.94h.01M492.65 194.75h.01M493.43 197.23h.01M493.42 194.82h.01M493.06 185.88h.01M493.24 183.57h.01M494.14 189.92h.01M494.09 195.85h.01M494.26 191.13h.01M494 195.77h.01M494.15 192.91h.01M494.57 193.03h.01M494.52 188.43h.01M494.68 192.89h.01M495.38 188.38h.01M495.18 193.06h.01M495.77 190.33h.01M494.95 196.59h.01M495.83 193.58h.01M496.12 191.63h.01M495.96 196.49h.01M496.19 199.03h.01M496.2 196.97h.01M496.39 196.71h.01M496.63 197.62h.01M496.8 193.76h.01M497.17 194.01h.01M497.09 186.55h.01M497.25 196.71h.01M497.64 198.68h.01M497.78 192.79h.01M497.99 194.68h.01M497.62 199h.01M498.19 198.24h.01M498.65 200.18h.01M499.02 197.38h.01M498.85 196.47h.01M498.68 197.14h.01M499.2 197.3h.01M498.86 191.84h.01M499.3 200.5h.01M499.65 201.99h.01M499.2 199.01h.01M499.37 193.58h.01M499.86 189.61h.01M500.13 199.42h.01M499.88 201.06h.01M500.29 189.24h.01M500.62 194.83h.01M501.29 192.59h.01M501.31 198.1h.01M500.81 198.5h.01M501.49 186.71h.01M501.85 188.72h.01M501.87 199.91h.01M501.94 200.2h.01M502.72 205.36h.01M503.13 196.57h.01M502.32 201.9h.01M503.08 198.94h.01M502.99 199.19h.01M502.94 202.82h.01M503.6 194.45h.01M503.33 199.42h.01M503.63 195h.01M504.53 203.63h.01M504.72 206.78h.01M504.14 204.35h.01M504.9 206.54h.01M504.91 204.62h.01M504.47 204.79h.01M505.49 203.7h.01M504.72 206.84h.01M505.64 199.7h.01M505.12 201.62h.01M505.76 206.69h.01M506.2 202.11h.01M505.95 206.72h.01M505.84 195.6h.01M506.17 203.4h.01M506.83 208.43h.01M507.1 206.41h.01M507.13 202.63h.01M507.47 207.85h.01M506.88 208.91h.01M507.27 205.05h.01M507.66 204.26h.01M507.19 203.35h.01M463.26 142.08h.01M434.3 141.8h.01M480.46 175.08h.01M424.62 133.15h.01M397 116.4h.01M396.79 78.12h.01M395.09 121.55h.01M491.41 161.94h.01M364.09 95.54h.01M515.97 196.17h.01M515.92 187.19h.01M400.99 129.28h.01M358.84 76.74h.01M373.58 66.43h.01M477.97 172.09h.01M383.74 110.57h.01M373.92 90.86h.01M502.32 181.32h.01M442.23 145.03h.01M357.02 75.36h.01M359.85 73.69h.01M467.65 166.71h.01M374.71 66.07h.01M481.44 154.25h.01M373.17 102.73h.01M407.83 119.01h.01M381.16 105.42h.01M368.62 101.98h.01M474.95 162.39h.01M434.16 145.89h.01M467.39 140.44h.01M492.87 154.62h.01M479.12 174.7h.01M502.08 183.96h.01M386.67 88.56h.01M407.46 130.49h.01M411.57 136.95h.01M431.97 104.67h.01M516.23 182.45h.01M398.71 123.54h.01M359.31 90.64h.01M488.37 163.01h.01M497.85 181.79h.01M418.92 133.67h.01M521.99 199.48h.01M467.63 160.42h.01M425.88 118.43h.01M405.19 106.43h.01M358.05 88.84h.01M431.13 136.65h.01M399.98 130.23h.01M521.76 189.44h.01M468.69 159.34h.01M408.04 135.08h.01M367.23 101.79h.01M417.96 140.25h.01M375.14 102.17h.01M407.91 129.65h.01M474.44 165.92h.01M372.04 75.59h.01M414.66 119.25h.01M360.99 74.97h.01M394.67 104.61h.01M357.39 89.19h.01M511.53 195.23h.01M380.44 114.34h.01M524.93 196.4h.01M358.25 70.31h.01M378.1 74.78h.01M418.32 127.35h.01M379.53 96.56h.01M399.04 124.63h.01M393.42 120.61h.01M418.62 130.52h.01M360.76 88.54h.01M375.65 103.45h.01M417.89 134.64h.01M394 110.78h.01M452.63 138.09h.01M503.44 190.56h.01M401.39 101.51h.01M339.41 189.67h.01M339.38 188.55h.01M339.38 189.23h.01M339.77 190.76h.01M340.59 188.74h.01M340.07 189.9h.01M340.75 188.55h.01M340.39 190.1h.01M341.3 189.94h.01M341.06 190.26h.01M341.65 190.12h.01M341.45 190.92h.01M342.44 192.17h.01M342.59 191.61h.01M342.87 189.74h.01M342.47 189.22h.01M343.34 190.76h.01M342.93 189.03h.01M343.38 188.96h.01M343.38 189.23h.01M343.99 191.88h.01M344.05 195.03h.01M343.92 191.59h.01M344.36 195.6h.01M344.86 190.78h.01M345.08 195.83h.01M345.44 199.88h.01M345.87 190.27h.01M346.27 190.35h.01M345.77 191.28h.01M346.1 197.02h.01M346.35 191.33h.01M346.29 192.69h.01M346.66 191.45h.01M346.74 194.32h.01M347.22 192.67h.01M347.74 192.09h.01M347.58 193.56h.01M347.8 191.61h.01M348.06 198.02h.01M348.65 191.58h.01M349.23 193.23h.01M348.85 191.62h.01M349.41 192h.01M349.48 193.01h.01M349.96 196.51h.01M350.47 196.15h.01M350.69 192.74h.01M350.09 193.31h.01M350.38 197.55h.01M350.79 192.46h.01M351.66 193.27h.01M351.38 197.01h.01M352.02 194.38h.01M352.07 196.39h.01M351.8 194.54h.01M352.55 193.72h.01M352.92 195.12h.01M353.31 198.23h.01M352.71 193.93h.01M353.41 198.44h.01M353.76 194.13h.01M353.57 194.45h.01M354.07 194.91h.01M353.89 196.46h.01M354.64 197.05h.01M354.92 195.64h.01M354.53 197.83h.01M355.4 195.89h.01M355.61 197.26h.01M356.14 195.17h.01M355.69 198.09h.01M356.61 196.06h.01M356.32 195.42h.01M357.02 201.93h.01M357.1 195.6h.01M357.27 196.05h.01M357 198.26h.01M357.32 195.75h.01M357.39 195.93h.01M357.97 195.64h.01M357.9 196.55h.01M358.95 197.31h.01M358.63 197.34h.01M358.95 198.16h.01M359.22 196.03h.01M359.64 195.72h.01M359.59 196.11h.01M360.2 202.79h.01M360.32 199.7h.01M360.61 198.06h.01M360.37 203.2h.01M360.7 199.12h.01M361.43 196.71h.01M361.69 198.1h.01M361.68 200.64h.01M361.38 196.73h.01M362.29 197.95h.01M361.9 197.05h.01M362.24 196.44h.01M362.31 199.03h.01M362.79 197.11h.01M363.71 199.25h.01M363.12 196.71h.01M364.17 202.54h.01M363.8 197.13h.01M364.03 198.42h.01M364.41 198.05h.01M364.25 197.59h.01M364.58 197.2h.01M365.26 197.28h.01M365.15 199.67h.01M365.83 200.53h.01M365.84 198.14h.01M366.49 197.75h.01M365.9 199.12h.01M366.74 197.78h.01M367 198.52h.01M367.31 198.09h.01M366.88 201.05h.01M367.21 199.53h.01M368.02 200.43h.01M367.72 201.3h.01M368.36 198.33h.01M368.1 200.05h.01M368.76 198.89h.01M369.04 198.83h.01M368.92 199.33h.01M369.42 200.07h.01M369.18 201.8h.01M369.59 201.95h.01M370.22 200.09h.01M370.44 202.02h.01M370.29 204.62h.01M370.95 200.62h.01M370.71 200.62h.01M371.53 200.68h.01M371.71 204.03h.01M372.02 207.24h.01M371.81 201.39h.01M371.8 203.48h.01M372.06 202.91h.01M372.7 201.17h.01M373.33 201.57h.01M373.12 205.84h.01M373.04 202h.01M373.65 203.19h.01M374.07 202.8h.01M374.36 203.6h.01M373.93 202.39h.01M374.56 203.35h.01M374.97 203.08h.01M374.88 203.15h.01M375.48 204.15h.01M375.4 206.06h.01M376.16 204.34h.01M376.1 209.02h.01M376.18 203.63h.01M376.25 205.7h.01M377.15 203.78h.01M376.58 208.98h.01M377.28 205.35h.01M377 204.92h.01M377.9 207.28h.01M377.49 205.7h.01M377.73 205.7h.01M377.93 211.84h.01M378.84 205.66h.01M378.45 205.4h.01M378.74 205.41h.01M379.61 207.02h.01M379.22 205.95h.01M379.69 208.8h.01M379.65 206.75h.01M380.68 206.62h.01M380.25 206.44h.01M381.08 209.21h.01M380.92 211.49h.01M381.28 213.32h.01M381.38 207.52h.01M381.87 209.64h.01M381.6 207.4h.01M381.75 214.03h.01M382.21 211h.01M382.36 208.18h.01M383.29 209.08h.01M383.4 208.23h.01M382.99 208.86h.01M383.39 211.1h.01M383.7 208.79h.01M384.35 212.18h.01M383.78 210.48h.01M384.58 211.89h.01M385.15 213.86h.01M385.28 209.97h.01M384.97 212.92h.01M385.31 210.4h.01M385.55 210.52h.01M385.64 209.99h.01M386.05 215.02h.01M386.74 212.21h.01M386.36 213.21h.01M387.13 215.74h.01M387.29 220.47h.01M387.61 213.67h.01M387.7 211.45h.01M388.11 212h.01M388.06 211.44h.01M388.56 212.17h.01M388.82 212.35h.01M389.09 215.62h.01M389.38 212.08h.01M389.37 214.82h.01M389.01 214.32h.01M389.72 216.57h.01M389.76 213.67h.01M390.41 215.79h.01M390.11 217.03h.01M390.38 213.73h.01M390.69 213.22h.01M391.37 213.21h.01M390.92 213.82h.01M391.79 213.54h.01M391.76 213.97h.01M392.32 214.71h.01M392.09 220.3h.01M392.88 215.98h.01M393.12 215.32h.01M392.8 216.9h.01M393.28 218.61h.01M393.53 214.55h.01M393.7 218.2h.01M393.84 215.96h.01M394.31 219.19h.01M394.26 215.28h.01M395.06 215.86h.01M394.51 217.55h.01M394.66 220.37h.01M395.27 217.15h.01M395.5 218.06h.01M395.83 215.68h.01M396.31 219.25h.01M396.02 216.65h.01M396.8 218.74h.01M397.11 216.47h.01M396.92 226.47h.01M397.42 217.2h.01M397.18 221.95h.01M397.53 217.17h.01M397.63 219.33h.01M398.17 218.33h.01M398.06 219.11h.01M399.11 223.56h.01M399.15 218.74h.01M399.5 217.54h.01M399.59 218.93h.01M399.45 221.66h.01M399.54 222.95h.01M400.05 217.62h.01M400.67 222.57h.01M400.53 224.41h.01M400.82 223.67h.01M401.12 218.37h.01M401.16 221.62h.01M401.24 220.23h.01M401.63 219.07h.01M401.91 220.04h.01M401.71 218.82h.01M402.62 219.62h.01M402.4 221.79h.01M402.9 219.59h.01M403.22 219.42h.01M403.07 224.04h.01M403.8 220.96h.01M404.03 222.07h.01M403.85 221.81h.01M404.7 223.09h.01M404.95 219.36h.01M404.38 220.53h.01M405.29 219.48h.01M404.9 221.78h.01M405.61 220.72h.01M405.56 232.32h.01M405.71 222.59h.01M405.87 220h.01M406.53 220.7h.01M406.34 220.38h.01M406.5 220.18h.01M406.96 220.15h.01M407.07 221.23h.01M407.54 221.17h.01M407.82 227.51h.01M408.05 226.03h.01M408.4 220.36h.01M408.23 220.27h.01M408.97 220.14h.01M408.93 227.28h.01M409.18 220.99h.01M409.67 221.02h.01M409.4 221.2h.01M410.03 224.43h.01M410.53 220.23h.01M410.29 223.04h.01M411.06 222.42h.01M410.84 221.43h.01M411.19 221.13h.01M411.6 222.74h.01M411.28 226.81h.01M412.18 221.47h.01M412.17 223.88h.01M412.17 222.99h.01M412.6 226.8h.01M412.49 221.76h.01M413.4 220.96h.01M412.82 224.18h.01M413.48 221.61h.01M413.61 222.28h.01M413.83 225.67h.01M414.61 222.52h.01M414.42 223.12h.01M414.57 221.85h.01M415.18 223.03h.01M415.03 221.71h.01M415.26 222.15h.01M415.66 226.35h.01M415.7 221.87h.01M415.77 224.9h.01M415.88 223.76h.01M416.15 221.76h.01M416.47 224.84h.01M416.62 221.94h.01M417.49 222.07h.01M417.9 224.16h.01M417.79 227.73h.01M417.59 226.94h.01M418.15 227.06h.01M418.69 222.02h.01M418.58 225.76h.01M419.28 221.83h.01M419.25 224.63h.01M418.96 229.7h.01M419.28 221.83h.01M420.06 221.78h.01M419.74 223.88h.01M420.04 222.17h.01M420.74 223.83h.01M420.68 229.29h.01M420.99 230.12h.01M421.05 222.97h.01M421.97 222.5h.01M421.95 233.22h.01M421.69 222.41h.01M422.09 222.38h.01M422.05 224.9h.01M422.87 223.69h.01M422.88 222.19h.01M423.24 225.48h.01M423.77 223.45h.01M423.49 224.16h.01M424.3 223.3h.01M424.51 226.44h.01M424.01 224.04h.01M424.48 222.73h.01M424.35 224.85h.01M425.33 225.83h.01M424.83 223.95h.01M425.45 225.84h.01M425.83 224.82h.01M425.92 225.27h.01M426.67 229.38h.01M426.58 228.19h.01M426.59 223.39h.01M427.33 223.28h.01M427.45 225.99h.01M427.88 226.34h.01M427.48 225.18h.01M427.66 225.74h.01M427.8 224.76h.01M428.35 226.94h.01M429 223.5h.01M429.24 223.03h.01M428.74 225.88h.01M429.37 225.95h.01M429.62 227.99h.01M430.18 224.14h.01M430.27 223.18h.01M430.04 223.25h.01M430.83 223.3h.01M430.93 224.32h.01M431.17 223.73h.01M430.81 225.36h.01M431.64 224.61h.01M431.81 223.7h.01M431.78 223.91h.01M432.55 228.63h.01M432.3 236.42h.01M432.9 225.11h.01M432.8 226.36h.01M432.99 227.61h.01M433.29 229.78h.01M433.79 223.69h.01M433.96 223.78h.01M434.48 223.6h.01M434.48 225.17h.01M434.62 223.84h.01M434.49 224.57h.01M434.52 227.19h.01M434.81 225.01h.01M435.81 227.72h.01M435.64 223.76h.01M436.12 225.06h.01M436 226.53h.01M436.08 229.52h.01M436.91 224.11h.01M436.56 224.1h.01M436.93 225.34h.01M437.73 224.27h.01M437.83 225.28h.01M438.19 224.56h.01M438.42 224.51h.01M438.71 226.03h.01M438.63 227.17h.01M439.07 225.68h.01M438.6 225.34h.01M439.5 229.34h.01M439.68 226.59h.01M439.65 224.74h.01M440.36 227.9h.01M439.83 229.71h.01M440.44 226.72h.01M440.31 225.4h.01M440.83 224.65h.01M440.88 225.82h.01M441.39 225.39h.01M441.65 227.52h.01M442.17 224.88h.01M442.48 225.52h.01M441.94 233.11h.01M442.95 226.49h.01M442.79 225.7h.01M442.54 225.51h.01M442.87 225.24h.01M443.58 225.5h.01M444.12 226.6h.01M443.8 227.34h.01M444.29 231.28h.01M444.74 226.63h.01M444.51 227.36h.01M444.68 227.02h.01M444.87 232.5h.01M444.93 232.81h.01M445.63 225.19h.01M445.82 225.7h.01M446.37 225.52h.01M446.46 227.65h.01M446.99 230.9h.01M446.96 227.79h.01M446.57 225.42h.01M447.67 226.64h.01M447.53 226.3h.01M447.62 225.56h.01M448.02 230.54h.01M447.72 229.33h.01M448.11 226.15h.01M448.27 229.51h.01M448.66 231.48h.01M449.13 230.32h.01M449.8 226.66h.01M449.78 226.98h.01M450.14 226.06h.01M449.7 234.42h.01M450.08 228.92h.01M450.41 226.38h.01M451.2 228.39h.01M451.47 237h.01M451.39 228.24h.01M451.69 226.58h.01M451.58 227.95h.01M451.72 231.2h.01M451.86 226.65h.01M452.51 226.71h.01M452.34 229.85h.01M452.96 227.94h.01M453.05 228.25h.01M452.91 228.21h.01M453.53 226.7h.01M454.08 227.19h.01M454.38 227.25h.01M453.92 227.29h.01M454.44 228.13h.01M455.03 227.66h.01M455.18 227.36h.01M455.21 230.7h.01M455.89 228.4h.01M455.42 228.92h.01M455.57 227.15h.01M455.81 227.89h.01M456.36 229.31h.01M456.68 227.9h.01M456.66 233.04h.01M456.96 227.56h.01M457.76 228.09h.01M457.54 229.91h.01M457.42 227.74h.01M458.41 227.68h.01M458 229.68h.01M458.14 229.6h.01M458.64 229.07h.01M459.26 227.84h.01M459.27 230.35h.01M459.66 228.11h.01M459.89 228.98h.01M460.35 228.02h.01M459.95 227.88h.01M460.16 229h.01M460.86 228.17h.01M460.76 238.87h.01M461.31 228.73h.01M461.29 228.66h.01M461.56 230.66h.01M461.45 228.59h.01M462.56 229.95h.01M461.95 233.71h.01M462.55 229.87h.01M462.96 228.89h.01M463.33 229.94h.01M463.68 229.27h.01M463.48 232.18h.01M463.73 228.96h.01M464.16 228.98h.01M464.29 231.29h.01M464.02 236.77h.01M464.97 231.52h.01M464.76 229.15h.01M465.24 229.06h.01M465.25 231.73h.01M465.51 231.58h.01M465.66 231.75h.01M466.05 237.3h.01M465.95 229.21h.01M466.92 232.01h.01M466.49 231.46h.01M467.25 233.74h.01M467.17 229.67h.01M467.05 231.83h.01M467.62 229.6h.01M468.46 233.99h.01M468.61 230.43h.01M468.81 232.95h.01M469.14 231.61h.01M469.36 231.97h.01M468.88 231.6h.01M469.39 231.43h.01M469.52 230.8h.01M469.96 231.5h.01M469.9 230.56h.01M470.35 231.57h.01M470.74 231.28h.01M470.85 230.62h.01M471.31 230.92h.01M471.56 232.87h.01M471.29 231.89h.01M471.78 235.92h.01M471.8 231.44h.01M472.43 231.58h.01M472.46 234.18h.01M472.44 233.39h.01M472.81 231.87h.01M473.05 231.36h.01M473.64 233.57h.01M473.4 231.06h.01M474.03 233.83h.01M474.25 232.95h.01M474.15 233.06h.01M474.47 230.67h.01M475.27 230.6h.01M475.23 232.11h.01M475.59 237.76h.01M475.39 231.07h.01M476.06 230.75h.01M476 233.35h.01M476.03 231.47h.01M476.68 231.91h.01M477.05 235.29h.01M476.9 234.78h.01M477.02 231.63h.01M477.13 238.25h.01M477.46 230.82h.01M478.23 235.88h.01M478.47 231.3h.01M478.3 235.15h.01M478.86 230.88h.01M478.48 231.42h.01M479.02 235.38h.01M479.4 231.49h.01M479.1 231.03h.01M479.67 231.45h.01M479.9 230.41h.01M480.1 233.43h.01M480.61 232.8h.01M480.28 230.81h.01M481.07 232.75h.01M480.92 231.1h.01M481.82 234.47h.01M481.75 230.91h.01M481.74 232.16h.01M481.98 230.41h.01M482.48 232.53h.01M482.26 231.84h.01M482.68 230.82h.01M482.96 231.45h.01M482.96 235.25h.01M483.32 239.45h.01M483.55 234.42h.01M483.92 232.16h.01M484.55 230.35h.01M484.29 233.81h.01M484.72 233.45h.01M484.56 239.51h.01M484.96 231.26h.01M485.71 232.33h.01M485.73 234.16h.01M486.2 231.27h.01M485.93 230.45h.01M486.34 233.19h.01M486.24 240.78h.01M486.59 231.52h.01M486.72 230.2h.01M487.21 230.39h.01M487.58 231.39h.01M488 230.9h.01M488.5 231.71h.01M488.29 230.55h.01M488.39 231.6h.01M488.48 234.35h.01M488.85 234.61h.01M489.33 231h.01M489.25 231.89h.01M490.12 230.31h.01M489.57 231.09h.01M490.2 232.38h.01M490.24 230.89h.01M490.49 233.96h.01M491.3 231.08h.01M491.02 230.82h.01M491.5 230.18h.01M491.53 232.07h.01M491.57 230.79h.01M492.01 232.95h.01M492.17 233.36h.01M492.08 232.32h.01M493.2 229.97h.01M493.16 231.82h.01M493.21 230.78h.01M493.16 229.73h.01M493.89 231.41h.01M494.08 229.78h.01M494.28 229.39h.01M494.42 229.42h.01M494.7 229.76h.01M494.87 229.2h.01M494.78 230.88h.01M495.52 229.56h.01M495.7 230.4h.01M495.9 231.88h.01M496.01 229.13h.01M496.36 232.31h.01M496.41 231.45h.01M497.21 229.68h.01M497.15 232.03h.01M497.35 228.53h.01M497.89 228.3h.01M497.93 235.79h.01M498.28 228.77h.01M498.5 228.46h.01M497.97 229.55h.01M498.6 232.64h.01M499.07 231.64h.01M499.47 229.43h.01M499.74 228.23h.01M499.15 228.57h.01M499.43 228.33h.01M500.19 227.39h.01M499.99 227.28h.01M500.34 227.52h.01M501.16 231.94h.01M501.48 230.68h.01M501.53 227.34h.01M501.89 226.58h.01M501.94 229.2h.01M501.58 225.97h.01M502.25 230.72h.01M502.77 226.99h.01M502.86 225.08h.01M503.17 225.85h.01M502.85 225.59h.01M503.17 230.74h.01M503.92 226.75h.01M504.03 224.22h.01M503.82 224.46h.01M504.75 223.69h.01M504.57 223.92h.01M504.35 224.19h.01M505.26 225.47h.01M505.13 226.71h.01M505.36 222.53h.01M505.88 224.62h.01M505.99 222.69h.01M506.6 221.71h.01M506.45 222.49h.01M506.39 224.2h.01M506.78 223.55h.01M506.77 224.3h.01M507.51 221.34h.01M507.51 221.97h.01M451.52 245.29h.01M426.01 229.5h.01M346.13 210.41h.01M435.62 232.55h.01M351.76 198.15h.01M459.35 234.22h.01M503.9 231.34h.01M477.09 243.39h.01M417.97 235.07h.01M449.2 236.08h.01M439.88 231.46h.01M355.06 211.77h.01M466.29 237.19h.01M494.51 244.88h.01M353.83 213.35h.01M346.98 195.89h.01M367.74 204h.01M411.12 225.25h.01M388.29 222.54h.01M356.42 211.25h.01M359.28 208.46h.01M454.62 233.28h.01M435.72 237.45h.01M451.37 231.96h.01M527.16 229.4h.01M498.75 211.26h.01M498.49 209.47h.01M498.66 218.45h.01M547.92 207.28h.01M548.06 213.45h.01M547.98 211.5h.01M542.87 224.67h.01M542.94 221.77h.01M542.85 228.69h.01M537.6 215.5h.01M537.85 218.23h.01M533.12 216.92h.01M533.08 214.82h.01M539.74 201.71h.01M516.48 202.08h.01M516.31 199.75h.01M503.86 199.7h.01M503.89 203.75h.01M503.93 192.02h.01M504.01 204h.01M541.58 219.73h.01M541.59 219.49h.01M514.28 191.36h.01M514.24 191.09h.01M543.25 209.88h.01M543.33 207.22h.01M541.65 207.31h.01M541.77 213.11h.01M540.28 197.05h.01M540.26 197.75h.01M526.95 204.72h.01M526.96 205.15h.01M501.98 209.01h.01M501.74 210.95h.01M501.77 209.33h.01M501.83 211.38h.01M522.23 201.11h.01M509.17 232.33h.01M509.01 233.23h.01M502.12 208.95h.01M502.19 203.3h.01M502.09 206.15h.01M552.06 213.56h.01M551.97 210.44h.01M551.99 217.33h.01M518.89 218.67h.01M519.02 218.57h.01M523.56 213.07h.01M523.49 212.01h.01M526.84 199.63h.01M526.76 194.31h.01M526.91 204.04h.01M518.01 233.57h.01M517.94 234.4h.01M517.88 235.43h.01M503.56 218.42h.01M503.71 213.12h.01M503.6 215.21h.01M503.51 216.6h.01M524.41 250.59h.01M524.39 247.17h.01M524.57 240.81h.01M510.36 230.89h.01M510.21 231.42h.01M510.19 228.54h.01M538.54 213.07h.01M538.36 211.04h.01M499.06 221.79h.01M499.03 217.04h.01M499.26 214.81h.01M536.64 225.6h.01M536.64 226.42h.01M536.79 224.35h.01M518.51 212.65h.01M518.38 222.32h.01M518.49 221h.01M518.5 219.98h.01M539.2 204.87h.01M539.09 207.21h.01M539.1 214.35h.01M539.2 209.52h.01M514.5 211.16h.01M514.55 213.34h.01M497.17 223.07h.01M497.36 225.39h.01M497.37 231.28h.01M497.27 233.03h.01M547.42 219.33h.01M547.26 218.36h.01M503.63 211.73h.01M503.66 212.98h.01M522.4 210.32h.01M522.42 217.37h.01M522.28 212.12h.01M516 228.69h.01M516.07 236.98h.01M516.02 235.11h.01M516.03 237.37h.01M511.14 230.06h.01M511.03 223.55h.01M510.98 228.5h.01M524.81 217.08h.01M524.9 209.16h.01M499.1 213.17h.01M499.01 213.54h.01M499.08 210.16h.01M507.56 202.77h.01M525.67 204.36h.01M525.49 196.49h.01M525.56 194.43h.01M515.89 220.94h.01M515.81 220.88h.01M550.74 251.25h.01M550.74 252.66h.01M537.05 207.95h.01M537.11 207.2h.01M537.25 208.64h.01M537.1 209.7h.01M542.28 214.54h.01M542.37 209.39h.01M536.12 209.26h.01M536.23 208.03h.01M536.04 206.21h.01M519.97 230.37h.01M519.8 219.21h.01M519.95 224.31h.01M504.54 217.26h.01M551.59 241.6h.01M506.8 221.01h.01M506.88 229.68h.01M506.83 226.92h.01M532.99 207.51h.01M532.87 206.79h.01M532.91 208.21h.01M507.36 221.9h.01M507.32 221.24h.01M507.19 221.56h.01M508.63 232.59h.01M508.57 229.68h.01M537.71 229.57h.01M540.21 250.06h.01M540.3 246.58h.01M540.15 247.35h.01M540.31 249.56h.01M510.48 226.74h.01M510.63 229.52h.01M510.36 223.27h.01M518.96 229.3h.01M519.12 222.9h.01M534.35 226.19h.01M534.48 220.92h.01M523.19 211.97h.01M523.23 214.42h.01M505.32 197.83h.01M505.28 194.14h.01M505.38 194.39h.01M505.15 195.13h.01M497.66 232.2h.01M530.97 209.29h.01M531.15 220.27h.01M531.05 224.12h.01M531 215h.01M532.57 209.94h.01M532.37 206.4h.01M532.4 206.94h.01M534.92 216.06h.01M535.11 218.77h.01M534.9 219.1h.01M534.91 217.11h.01M519.01 230.71h.01M519.15 226.28h.01M518.96 224.26h.01M515.55 204.84h.01M515.79 205.75h.01M525.49 201.76h.01M525.62 210.76h.01M525.68 212.52h.01M525.44 208.72h.01M524.89 201.35h.01M524.86 207.35h.01M538.3 226.66h.01M542.62 232.2h.01M542.71 232.9h.01M542.72 234.07h.01M551.84 241.02h.01M552.04 234.06h.01M551.99 236.71h.01M512.89 205.59h.01M518.23 221.63h.01M518.37 222.3h.01M507.03 224.43h.01M549.6 226.95h.01M549.63 224.2h.01M513.49 226.67h.01M513.6 216.26h.01M513.5 223.76h.01M513.4 220.49h.01M521.8 216.25h.01M521.71 219.88h.01M548.77 208.58h.01M511.23 211.1h.01M511.46 209.65h.01M511.47 210.62h.01M500.26 223.27h.01M500.2 219.01h.01M522.62 225.23h.01M522.73 221.97h.01M522.72 223.17h.01M527.93 204.63h.01M527.76 210.85h.01M527.73 203.22h.01M499.52 227.72h.01M499.3 229.95h.01M499.46 224.53h.01M521.57 221.33h.01M521.71 217.22h.01M521.77 220.15h.01M521.75 221.92h.01M544.13 211.35h.01M544.2 218.78h.01M544.29 212.11h.01M530.2 229.39h.01M530.4 233.7h.01M515.75 212.88h.01M501.5 223.64h.01M501.44 224.24h.01M544.02 228.19h.01M543.95 229.42h.01M543.76 236.05h.01M516.37 227.57h.01M516.24 227.08h.01M516.27 224.6h.01M520.41 211.34h.01M520.41 213.94h.01M520.34 216.15h.01M520.22 214h.01M544.71 237.23h.01M544.65 226.47h.01M544.85 238.46h.01M544.58 233.83h.01M516.58 197.36h.01M516.42 197.52h.01M498.66 204.02h.01M509.5 211.25h.01M509.24 203.34h.01M509.31 207.74h.01M517.26 221.26h.01M517.24 226.26h.01M517.12 206.86h.01M517.08 218.95h.01M529.31 221.38h.01M511.39 230.01h.01M522 204.82h.01M522.04 205.23h.01M511.01 195.04h.01M510.96 199.77h.01M511.11 205.51h.01M548.05 209.77h.01M548.23 211h.01M548.03 211.9h.01M529.81 201.99h.01M529.97 205.96h.01M529.81 205.28h.01M529.87 203.69h.01M501.28 210.91h.01M501.53 204.95h.01M501.47 210.48h.01M505.82 210.22h.01M505.92 207.96h.01M505.83 209.29h.01M534.21 202.25h.01M534.25 205.07h.01M534.13 204.64h.01M527.56 203.4h.01M527.68 206.08h.01M527.58 201.74h.01M544.58 232.41h.01M544.5 236h.01M523.65 216.65h.01M523.52 214.29h.01M523.55 222.61h.01M523.68 206.64h.01M504.25 220.68h.01M504.15 219.16h.01M497.56 212.44h.01M497.51 212.84h.01M551.15 205.82h.01M551.13 208.36h.01M551.06 216.6h.01M550.88 207.04h.01M534.33 216.7h.01M534.26 218h.01M534.27 221.52h.01M540.6 205.42h.01M502.29 220.79h.01M502.38 222.45h.01M502.23 224.16h.01M551.64 199.49h.01M551.62 197.25h.01M551.38 199.78h.01M509.78 233.72h.01M508.48 185.45h.01M508.37 185.81h.01M537.83 231.67h.01M524.12 209.17h.01M537.02 225.67h.01M537.14 225.73h.01M537.09 219h.01M521.95 222.09h.01M522 219.72h.01M522.03 221.47h.01M529.44 222.48h.01M529.47 214.78h.01M529.44 223.78h.01M511.62 214.44h.01M511.64 218.44h.01M511.77 212.64h.01M511.7 204.53h.01M522.38 204.97h.01M522.5 210.78h.01M522.43 203.2h.01M534.34 225.98h.01M543.87 227.46h.01M544.73 209.32h.01M544.64 210.97h.01M502.88 226.22h.01M502.82 226.26h.01M540.21 201.54h.01M540.29 199.92h.01M514.99 218.94h.01M514.92 216.53h.01M550.3 207.48h.01M550.23 205.53h.01M550.18 201.11h.01M534.74 213.2h.01M534.78 215.98h.01M534.84 200.6h.01M534.85 209.68h.01M540.58 216.05h.01M540.64 212.2h.01M540.63 220.47h.01M498.61 207.51h.01M498.55 201.81h.01M498.65 200.52h.01M523.65 222.63h.01M523.57 226.35h.01M523.58 224h.01M524.6 201h.01M509.79 204.77h.01M509.68 202.57h.01M509.61 211.94h.01M550.22 205.72h.01M550.08 203.59h.01M550.07 203.42h.01M508.53 217.41h.01M508.31 212.46h.01M501.47 210.95h.01M501.5 206.71h.01M501.48 204.68h.01M501.5 204.57h.01M511.39 219.63h.01M511.5 222.02h.01M519.19 214.31h.01M519.29 208.16h.01M519.22 224.28h.01M519.3 222.24h.01M510.36 232.59h.01M510.58 231.61h.01M510.44 227.39h.01M500.06 217.01h.01M500.02 215.09h.01M500.2 219.04h.01M525.13 206.55h.01M507.29 225.84h.01M507.33 223.89h.01M507.38 225.07h.01M499.94 211.35h.01M499.88 206.54h.01M499.76 206.15h.01M521.76 214.36h.01M521.74 212.99h.01M532.47 189.83h.01M524.27 220.13h.01M524.34 226h.01M524.1 216.8h.01M524.17 223.57h.01M540.92 234.93h.01M502.7 221.66h.01M541.08 240.2h.01M541.08 236.72h.01M541.19 241.28h.01M530.45 190.83h.01M525.15 241.15h.01M525.16 242.46h.01M525.37 236.99h.01M515.55 231.14h.01M515.31 227.24h.01M498.55 220.51h.01M498.53 222.98h.01M498.6 217.01h.01M503.75 224.27h.01M524 216.01h.01M524 221.46h.01M516.78 216.07h.01M516.7 217.26h.01M516.74 215.98h.01M518.5 209.54h.01M518.29 208.77h.01M548.42 221.34h.01M548.42 218.3h.01M548.34 223.16h.01M548.31 219.42h.01M503.68 204.52h.01M503.7 208.18h.01M503.69 206.2h.01M499.69 234.05h.01M499.87 228.93h.01M499.76 231.31h.01M499.93 231.73h.01M547.22 204.3h.01M547.33 205.78h.01M512.36 234.82h.01M512.42 233.56h.01M512.53 232.04h.01M512.33 225.98h.01M502.46 200.47h.01M502.4 205.03h.01M502.36 207.41h.01M502.53 211.15h.01M503.47 209.54h.01M503.62 213.42h.01M503.55 219.39h.01M503.58 222.01h.01M517.68 214.66h.01M512.1 208.19h.01M511.87 206.07h.01M512.02 200.33h.01M528.75 229.45h.01M528.8 230.68h.01M528.72 232.48h.01M534.37 214.02h.01M534.24 216.65h.01M534.2 217.11h.01M525.03 213.47h.01M524.96 218.14h.01M534.85 228.81h.01M534.88 227.1h.01M546.68 192.38h.01M546.57 188.3h.01M546.66 183.34h.01M546.52 190.87h.01M508.61 211.44h.01M508.84 210.54h.01M508.79 208.9h.01M536.82 199.04h.01M536.68 206.29h.01M536.87 211.57h.01M536.8 205.22h.01M500.27 233.05h.01M500.11 228.67h.01M500.15 230.65h.01M500.13 232.15h.01M526.22 215.22h.01M526.22 209.43h.01M526.35 210.78h.01M551.08 211.25h.01M551.25 212.25h.01M541.5 203.02h.01M541.55 206.02h.01M541.54 202.9h.01M541.61 203.51h.01M521.25 211.07h.01M521.18 212.21h.01M521.06 210.42h.01M516.69 205.78h.01M516.7 203.55h.01M516.15 218.54h.01M516.12 215.86h.01M501.17 205.65h.01M501.41 205.56h.01M501.32 208.53h.01M540.11 231.6h.01M539.83 232.37h.01M500.9 222.42h.01M500.7 207.49h.01M500.91 213.14h.01M531.49 204.31h.01M531.36 206.83h.01M531.43 203.25h.01M539.64 219.24h.01M524.02 221.5h.01M524.2 222.28h.01M524.15 224.39h.01M523.99 217.24h.01M523.37 230.05h.01M523.41 223.66h.01M523.22 222.83h.01M539.77 203.34h.01M539.91 211.63h.01M540 198.34h.01M525.15 212.62h.01M525.04 212.8h.01M525.21 209.59h.01M503.9 219.77h.01M503.89 219.91h.01M504.01 219.65h.01M534.88 192.4h.01M535.08 191.89h.01M534.9 193.44h.01M534.69 229.12h.01M534.76 231.82h.01M534.82 237.19h.01M498.01 201.09h.01M517.76 205.38h.01M517.96 208.89h.01M517.87 207.82h.01M507.41 216.49h.01M507.28 221.29h.01M507.41 206.82h.01M507.5 219.62h.01M538.59 233.71h.01M538.63 228.06h.01M538.53 232.19h.01M542.99 199.29h.01M543.07 200.19h.01M542.92 204.57h.01M540.56 217.47h.01M540.59 214.04h.01M512.33 216.28h.01M512.28 217.45h.01M512.26 208.2h.01M521.91 207.05h.01M521.8 210.46h.01M521.9 209.96h.01M551.21 248.57h.01M517.85 218.31h.01M518.04 224.48h.01M518.02 215.08h.01M532.13 237.41h.01M532.17 237.46h.01M497.63 224.34h.01M497.61 224.45h.01M540.32 202.43h.01M506.58 214.7h.01M506.5 211.63h.01M548.85 223.45h.01M548.9 223.24h.01M513.93 209.59h.01M525.66 211.92h.01M525.56 212.08h.01M545.89 217.65h.01M536 194.73h.01M536.09 205.47h.01M536.15 195.05h.01M513.97 203.46h.01M527.14 229.07h.01M527.18 235.49h.01M527.12 234.01h.01M519.24 225.76h.01M519.27 227.68h.01M525.78 217.35h.01M525.75 219.61h.01M541.32 205.48h.01M541.35 208.1h.01M541.23 214.66h.01M511.89 220.16h.01M511.92 220.75h.01M543.36 218.44h.01M504.2 224.47h.01M504.41 224.63h.01M504.31 224.13h.01M504.34 222.05h.01M538.5 217.95h.01M538.63 217.16h.01M538.57 212.47h.01M533.58 250.38h.01M533.56 234.12h.01M533.53 233.4h.01M533.6 246.98h.01M517.55 228.28h.01M519.2 201.26h.01M519.09 194.76h.01M519.19 199.9h.01M498.92 219.29h.01M498.66 220.15h.01M498.78 223.91h.01M511.33 217.84h.01M511.36 224.66h.01M511.3 211.17h.01M511.35 216.24h.01M530.11 217.44h.01M547.75 196.23h.01M538.82 229.79h.01M538.77 232.95h.01M515.82 213.17h.01M515.8 216.98h.01M515.71 212.67h.01M522.51 227.58h.01M522.53 228.23h.01M525.44 235.56h.01M503.83 223.61h.01M503.79 219h.01M503.84 222.47h.01M539.65 201.26h.01M539.82 205.48h.01M539.79 205.88h.01M517.15 228.02h.01M517.1 230.35h.01M517.19 230.67h.01M533.15 211.47h.01M533.38 211.88h.01M536.92 207.57h.01M536.8 211.99h.01M536.73 209.26h.01M550.79 228.34h.01M550.95 221.88h.01M550.77 220.6h.01M550.73 219.22h.01M502.16 203.35h.01M540.66 208.25h.01M540.68 206.55h.01M550.69 223.52h.01M550.66 228.07h.01M550.72 222.83h.01M550.85 224.25h.01M532.66 238.53h.01M520.18 216.99h.01M520.19 212.05h.01M520.14 211.24h.01M509.32 225.82h.01M509.2 232.27h.01M509.29 232.93h.01M507.4 222.24h.01M507.47 216.98h.01M507.36 221.58h.01M502.3 202.36h.01M502.41 213.98h.01M502.24 201.78h.01M502.22 218.59h.01M542.51 246h.01M542.31 249.98h.01M542.31 244.46h.01M542.45 233.99h.01M528.15 237.41h.01M527.95 236.92h.01M528.2 235.96h.01M552.03 223.11h.01M551.87 222.6h.01M551.95 218.97h.01M499.9 210.97h.01M518.95 245.76h.01M518.91 243.38h.01M518.04 220.86h.01M542.48 220.78h.01M507.76 201.44h.01M508.01 209.5h.01M516.69 216.9h.01M516.67 210.46h.01M516.67 215.7h.01M501.82 210.96h.01M501.8 219.63h.01M501.75 218.3h.01M538.72 186.97h.01M538.74 182.56h.01M538.8 182.73h.01M528.32 236.65h.01M528.44 232.67h.01M528.43 228.79h.01M528.45 231.55h.01M545.41 234.92h.01M545.47 232.75h.01M539.18 211.57h.01M539.33 207.33h.01M539.19 204.88h.01M548.61 211.23h.01M548.53 206.47h.01M548.6 206.42h.01M502.99 223.42h.01M502.98 221.56h.01M516.15 204.85h.01M516 205.55h.01M516.07 212.32h.01M532.38 243.71h.01M532.45 238.15h.01M532.29 233.36h.01M532.25 242.53h.01M523.71 213.29h.01M523.51 211.48h.01M534.32 209.04h.01M534.36 212.47h.01M510.72 219.03h.01M510.75 223.51h.01M505.55 216.94h.01M505.66 218.18h.01M505.71 218.06h.01M505.58 216.49h.01M538.51 202.49h.01M538.57 207.53h.01M503.01 230.37h.01M536.21 215.27h.01M536.31 218.63h.01M528.06 211.12h.01M528.18 211.89h.01M511.24 213.75h.01M534.94 203.45h.01M535.11 203.36h.01M549.96 189.07h.01M549.89 195.16h.01M549.99 186.6h.01M550 190.78h.01M527.84 191.23h.01M527.85 189.94h.01M540.71 224.61h.01M540.72 224.86h.01M503.65 216.1h.01M503.73 217.61h.01M500.35 224.04h.01M500.31 217.86h.01M500.25 218.71h.01M500.4 223.61h.01M526.26 223.69h.01M526.28 226.19h.01M509.98 203.69h.01M510.1 200.43h.01M510.77 198.35h.01M510.97 196.52h.01M510.8 198.3h.01M510.79 193.11h.01M520.38 228.93h.01M520.33 231.06h.01M520.37 226.88h.01M522.33 220.23h.01M522.29 219.86h.01M518.95 219.21h.01M504.47 214.57h.01M504.38 211.54h.01M521.44 204.54h.01M521.29 209.03h.01M521.2 209.46h.01M545.92 204.04h.01M545.89 205.43h.01M538.03 210.5h.01M538.15 209.27h.01M529.59 205.16h.01M529.64 210.49h.01M529.61 207.77h.01M551.57 210.09h.01M551.44 203.82h.01M551.38 202.03h.01M537.47 228.4h.01M537.33 225.9h.01M514.26 205.58h.01M502.3 210.42h.01M502.28 215.16h.01M502.28 211.4h.01M502.35 217.19h.01M540.18 225.77h.01M540.06 224.68h.01M540.13 233.02h.01M540.11 214.35h.01M500.75 225.13h.01M500.66 224.78h.01M500.82 226.82h.01M544.99 255.15h.01M544.93 251.83h.01M545.11 258.68h.01M499.48 208.12h.01M499.44 205.11h.01M499.63 208.29h.01M510.04 212.82h.01M510.07 212.78h.01M537.3 212.26h.01M537.26 219.07h.01M367 11.3h.01M340 25h.01M332.5 36.5h.01M365.5 34h.01M406 42.5h.01M350 47.5h.01M349 51h.01M324.5 46.5h.01M349.5 73h.01M357.5 77h.01M331 60h.01M529.5 147h.01M529.5 150h.01M529.3 153h.01M530 156.5h.01M492 124h.01M438 108.5h.01M421.5 106.5h.01M450.5 122.5h.01M462 129h.01M476 134.5h.01M537.5 168.5h.01M420 136h.01M433 130h.01M445 128h.01M453 134h.01M453 138h.01M468 147h.01M470 150h.01M480 142h.01M487 140h.01M488 148h.01M492 152h.01M493 158h.01M497 156h.01M505 155h.01M500 162h.01M507 166h.01M512 172h.01M525 172h.01M531 178h.01M346.5 217.5h.01M507 262h.01M518 265h.01M520 270h.01M515 258h.01M529 262h.01M478 251h.01M479.5 255h.01M479 259h.01M323 175h.01M518 260h.01" stroke="#b0c4de" stroke-width="2.6" stroke-linecap="round" fill="none"/>
<polygon fill="#4682b4" points="316,60 315.6,70 315.5,80 316.2,110 317.3,140 318.6,170 319.6,184 325,186 335,182.5 345,185 355,187.5 365,186 374,182 373,168 371.5,156 368.5,143 364.5,131 359,119 352.5,110 346,103 339,97 333,91 328.5,84 325.5,77 323,68 322,60"/>
<path d="M322.28 65.92h.01M322.39 64.18h.01M323.91 68.33h.01M323.96 66.83h.01M323.03 61.46h.01M322.35 66.21h.01M322.46 65.16h.01M322.46 60.86h.01M325.1 64.19h.01M322.3 64.54h.01M325.65 73.1h.01M325.25 75.27h.01M324.8 71.96h.01M323.51 70.64h.01M324.52 70.99h.01M327.05 77.53h.01M325.4 74.98h.01M322.78 69.55h.01M324.22 71.1h.01M325.91 71.2h.01M323.52 68.75h.01M325.22 70.47h.01M328.38 80.13h.01M327.45 78.9h.01M326.44 78.52h.01M328.46 84.27h.01M330.51 84.09h.01M326.92 79.8h.01M330.07 81.39h.01M328.82 83.33h.01M327.76 80.61h.01M332.08 90.89h.01M330.07 84.88h.01M329.95 84.76h.01M330.66 88.46h.01M330.79 85.94h.01M333.35 90.76h.01M332.38 91.39h.01M332.7 91.05h.01M334.13 89.35h.01M330.41 87.96h.01M338.14 95.22h.01M336.57 94.27h.01M339.98 96.87h.01M338.82 96.83h.01M338.25 97.72h.01M335.88 93.39h.01M339.77 95.42h.01M339.13 95.08h.01M335.9 94.7h.01M333.69 92.33h.01M333.49 92.27h.01M346.43 102.47h.01M339.9 97.65h.01M344.47 102.74h.01M339.87 96.79h.01M343.29 101.04h.01M343.14 99.71h.01M345.33 103.03h.01M340.28 98.31h.01M345.71 102.87h.01M345.51 102.67h.01M341.01 99.89h.01M351.7 110.66h.01M351.82 109.63h.01M350.49 108.21h.01M353.18 110.03h.01M353.55 110.69h.01M349.91 106.86h.01M351.17 108.05h.01M348.86 105.62h.01M347.37 104.81h.01M351.93 109.89h.01M347.67 103.78h.01M348.81 107.14h.01M353.89 112.13h.01M356.68 114.12h.01M357.41 115.45h.01M353.71 109.72h.01M355.68 112.46h.01M354.19 110.19h.01M355.23 114.85h.01M358.04 118.22h.01M354.98 113.2h.01M357.86 116.98h.01M358.09 117.68h.01M354.57 110.3h.01M355.67 113.32h.01M353.28 109.49h.01M362.18 127.71h.01M360.18 120.91h.01M362.74 128.04h.01M360.5 123.57h.01M362.24 126.26h.01M362.09 126.73h.01M363.28 129.33h.01M363.67 130.01h.01M363.98 130.2h.01M359.24 120.33h.01M359.61 119.93h.01M360.85 123.8h.01M359.49 120.76h.01M365.05 131.26h.01M363.54 128.25h.01M360.43 122.56h.01M360.6 121.59h.01M367.05 138.57h.01M369.1 139.28h.01M366.49 135.93h.01M365.68 131.7h.01M368.1 138.97h.01M365.72 134.08h.01M365.74 136.29h.01M365.41 133.88h.01M367.67 137.46h.01M366.88 136.49h.01M367.09 139.88h.01M367.46 138.12h.01M370.5 142.07h.01M367.23 140.79h.01M366.87 136.62h.01M365.55 135.41h.01M370.9 152.96h.01M371.68 156.04h.01M369.39 146.12h.01M371.54 151.07h.01M371.06 149.56h.01M371.55 152.42h.01M369.57 144.46h.01M368.17 143.79h.01M369.2 148.24h.01M370.79 152.85h.01M371.2 145.3h.01M369.54 147.95h.01M371.57 145.32h.01M370.96 148.38h.01M372.17 151.05h.01M371.2 155.19h.01M368.71 145.53h.01M371.38 158.56h.01M372.23 165.54h.01M372.96 157.51h.01M372.37 163.36h.01M372.16 159.96h.01M371.66 158.29h.01M373.63 167.3h.01M371.74 156.13h.01M374.2 164.04h.01M372.92 165.09h.01M373.14 165.4h.01M372.01 159.99h.01M372.09 162.6h.01M371.82 156.68h.01M371.98 161.6h.01M374.75 178.44h.01M372.99 171.73h.01M374.45 169.75h.01M373.49 181.37h.01M373.29 170.28h.01M374.24 172.32h.01M373.03 170.65h.01M372.84 170.63h.01M374.38 181.19h.01M374.68 181.14h.01M373.68 173.91h.01M374.58 176.96h.01M373.18 178.39h.01M373.6 169.92h.01M375.73 180.74h.01M373.18 167.74h.01M373.67 177.34h.01M374.06 180.21h.01M320.19 184.46h.01M320.75 185.12h.01M321.8 184.28h.01M321.99 184.65h.01M322.66 185.18h.01M322.57 185.63h.01M323.73 184.11h.01M323.4 185.53h.01M324.67 184.37h.01M324.51 186.6h.01M325.45 185.34h.01M325.48 186.61h.01M326.07 185.88h.01M326.53 184.09h.01M327.4 185.89h.01M327.68 184.24h.01M328.34 185.2h.01M328.44 186.4h.01M329.44 186.7h.01M329.02 187.33h.01M330.4 186.38h.01M330.87 190.05h.01M331.51 185.43h.01M331.57 184.57h.01M332.44 185.01h.01M332.1 184.26h.01M333.89 186.96h.01M333.85 184.34h.01M334.44 187.16h.01M334.76 185.22h.01M335.01 187.78h.01M335.01 185.98h.01M336 184.18h.01M336.34 187.86h.01M337.1 186.77h.01M337.54 185.83h.01M338.07 186.08h.01M338.1 186.06h.01M339.27 184.32h.01M339.28 185.23h.01M340.75 184.1h.01M340.83 184.83h.01M341.13 184.26h.01M341.67 185.21h.01M342.33 185.6h.01M342.68 184.43h.01M343.41 184.89h.01M343.62 184.97h.01M344.87 185.03h.01M344.5 184.38h.01M345.52 184.34h.01M345.66 186.67h.01M346.43 189.43h.01M346.77 185.94h.01M347.51 184.89h.01M347.2 185.51h.01M348.09 184.55h.01M348.22 185.15h.01M349.4 184.52h.01M349.65 184.58h.01M350.65 185.84h.01M350.23 184.54h.01M351.71 185.45h.01M351.91 185.56h.01M352.12 184.09h.01M352.33 184.56h.01M353.02 186.25h.01M353.6 185.5h.01M354.3 184.83h.01M354.35 184.9h.01M355.63 184.85h.01M355.47 184.44h.01M356.98 186.27h.01M356.3 185.03h.01M357.67 184.1h.01M357.13 184.07h.01M358.45 186.51h.01M358.29 184.37h.01M359.93 184.43h.01M359.76 186.01h.01M360.49 184.18h.01M360.52 184.6h.01M361.74 184.4h.01M361.43 185.27h.01M363 184.08h.01M362.23 185.92h.01M363.83 184.66h.01M364 185.3h.01M364.47 185.49h.01M364.67 186.63h.01M365.05 188.13h.01M365.52 184.96h.01M366.11 184.62h.01M366.33 184.35h.01M367.77 187.19h.01M367.08 186.25h.01M368.47 185.1h.01M368.41 184.21h.01M369.46 185.03h.01M369.82 185.72h.01M370.43 186.08h.01M370.18 186.82h.01M371.88 185.44h.01M371.63 184.39h.01M372.5 185.58h.01M372.97 184.36h.01M373.86 185.05h.01M373.09 184.29h.01M318.01 5.83h.01M320.5 5.12h.01M317.47 5.82h.01M320.22 5.36h.01M320.16 6.22h.01M318.17 6.78h.01M318.93 6.19h.01M317.49 6.7h.01M320.06 7.76h.01M317.3 7.22h.01M317.54 7.63h.01M317.62 7.27h.01M318.89 8.06h.01M318.7 8.94h.01M321.08 8.24h.01M319.49 8.45h.01M320.33 9.75h.01M320.01 9.11h.01M318.52 9.97h.01M317.2 9.78h.01M321.31 10.72h.01M318.33 10.55h.01M319.27 10.65h.01M317.76 10.8h.01M321.14 11.29h.01M318.91 11.9h.01M317.92 11.42h.01M319.76 11.31h.01M321.09 12.51h.01M318.58 12.97h.01M318.42 12.69h.01M318.64 12.29h.01M318.93 13.67h.01M319.3 13.94h.01M320.56 13.53h.01M318.08 13.9h.01M319.37 14.24h.01M321.07 14.41h.01M318.53 14.93h.01M321.37 14.47h.01M321.21 15.99h.01M319.66 15.27h.01M317.68 15.5h.01M319.28 15.76h.01M317.58 16.96h.01M321.32 16.11h.01M319.3 16.03h.01M320.29 16.13h.01M318.57 17.33h.01M320.17 17.38h.01M320.26 17.58h.01M320.82 17.19h.01M318.39 18.45h.01M320.11 18.46h.01M319.04 18.96h.01M317.88 18.02h.01M319.44 19.57h.01M319.35 19.73h.01M318.97 19.43h.01M318.39 19.19h.01M318.55 20.53h.01M318.3 20.22h.01M319.46 20.52h.01M316.8 20.36h.01M318.27 21.54h.01M320.87 21.23h.01M318.7 21.95h.01M320.35 21.66h.01M319 22.73h.01M319.68 22.88h.01M320.05 22.23h.01M319.59 22.87h.01M317.93 23.53h.01M320.03 23.02h.01M317.77 23.6h.01M318.06 23.82h.01M317.51 24.51h.01M318.51 24.18h.01M320.4 24.35h.01M317.09 24.29h.01M320.01 25.69h.01M317.51 25.43h.01M317.71 25.3h.01M320.08 25.24h.01M316.76 26.55h.01M317.4 26.5h.01M318.82 26.23h.01M317.63 26.86h.01M317.16 27.87h.01M319.14 27.66h.01M319.85 27.79h.01M318.12 27.11h.01M317.71 28.52h.01M318.86 28.53h.01M317.49 28.44h.01M317.97 28.03h.01M319.78 29.43h.01M317.64 29.99h.01M318.48 29.4h.01M318.82 29.14h.01M317.15 30.32h.01M320.06 30.96h.01M318.58 30.4h.01M317.67 30.07h.01M320.23 31.69h.01M317.91 31.42h.01M320.82 31.19h.01M317.69 31.4h.01M319.98 32.53h.01M317.7 32.03h.01M319.06 32.45h.01M316.94 32.64h.01M317.45 33.66h.01M317.45 33.54h.01M320.76 33.06h.01M319.32 33.32h.01M318.71 34.03h.01M316.89 34.85h.01M318.51 34.12h.01M318.54 34.65h.01M316.84 35.84h.01M318.22 35.25h.01M320.42 35.47h.01M317.25 35.19h.01M319.85 36.55h.01M318.62 36.74h.01M318.16 36.17h.01M319.51 36.22h.01M317.92 37.06h.01M319.49 37.68h.01M320.51 37.18h.01M320.04 37.27h.01M317.16 40.42h.01M320.22 40.25h.01M316.94 40.47h.01M318.17 40.79h.01M319.75 42.08h.01M319.63 42.4h.01M318.73 42.65h.01M318.53 42.08h.01M319.58 43.96h.01M320.9 43.04h.01M319.7 43.09h.01M319.85 43.99h.01M318.37 44.85h.01M319.86 44.5h.01M320.7 44.29h.01M318.12 44.8h.01M318.5 45.12h.01M319.25 45.6h.01M318.43 45.26h.01M318.04 45.78h.01M319.35 46.11h.01M320.78 46.42h.01M319.27 46.97h.01M318.24 46.69h.01M319.19 47.62h.01M318.52 47.81h.01M318.92 47.43h.01M319.4 47.68h.01M317.51 48.33h.01M318.1 48.54h.01M321.09 48.88h.01M318.52 48.42h.01M317.78 49.75h.01M318.37 49.18h.01M320.16 49.72h.01M318.22 49.79h.01M319.6 50.59h.01M321.02 50.36h.01M319.28 50.59h.01M318.23 50.91h.01M318.86 51.47h.01M316.65 51.44h.01M320.87 51.02h.01M319.56 51.09h.01M319.04 52.73h.01M316.76 52.74h.01M317.04 52.34h.01M317.83 52.5h.01M319.91 53.63h.01M318.78 53.07h.01M320.6 53.47h.01M320.84 53.01h.01M320.87 54.68h.01M318.65 54.53h.01M318.3 54.25h.01M319.35 54.12h.01M317.14 55.62h.01M321.06 55.99h.01M318.71 55.79h.01M318.14 55.99h.01M318.14 56.27h.01M318.28 56.59h.01M317.83 56.18h.01M320.54 56.07h.01M318.58 57.32h.01M319.09 57.6h.01M318.66 57.29h.01M316.6 57.58h.01M320.72 58.52h.01M319.74 58.29h.01M320.13 58.3h.01M319.9 58.34h.01M316.99 59.7h.01M321.08 59.4h.01M320.97 59.91h.01M320.6 59.54h.01M320.36 60.61h.01M320.76 60.18h.01M318.51 60.19h.01M318.06 60.02h.01M318.77 61.49h.01M318.69 61.16h.01M316.7 61.99h.01M318.76 61.08h.01" stroke="#4682b4" stroke-width="2.1" stroke-linecap="round" fill="none"/>
<path d="M337.5 62V86M334.5 70V84M354.5 95V117M356 97V112M360 105V116M365.5 117V131M376.5 117V137M378.5 120V135M387 102V115M389 93V111M399.5 111V116M382.5 130V150M386.5 124V140M392 140V156M374.5 150V190M377.5 160V189M380.5 165V186M367.5 180V198M363 178V192M355.5 176V190M348.5 176V188M340 172V186M330 172V187M324 192V200M401.2 172V219M403 176V190M396 168V182M450.8 206V211M485.8 197.5V206M510.5 213.8V220M384.5 168V183M370 100V108M372.36 152.57V177.06M374.85 155.1V164.79M380.34 166.68V174.56M356.08 162.64V182.51M396.2 174.86V193.94M359.09 110.02V126.59M360.56 126.41V133.01M371.82 167.53V183.91M374.49 158.78V173.92M396.89 175.86V195.08M366.19 130.13V141.91M386.48 152.76V175.7M395.11 170.95V176.96M392.96 157.72V183.32M355.29 149.67V171.24M355.92 129.04V154.32M357.31 124.09V132.11M387.87 144.88V162.07M360.58 158.47V167.09M357.24 136.06V146.31M395.69 169.57V181.65M361.48 136.97V160.06M356.51 175.25V185.52M386.77 150.12V162.05M356.06 146.7V157.56M368.73 144.87V170.05M377.86 169.65V179.31M392.88 169.71V180.69M385.27 173.62V183.55M391.7 161.99V176.42M353.74 173.29V184.06M363.56 165.03V182.96M359.89 157.51V164.88M377.17 168.88V187.16M320.33 178V184.95M321.11 178V188.76M322.55 178V183.74M324.37 178V183.65M325.51 178V192.81M327.38 178V183.89M329.04 178V192.5M330.31 178V183M331.71 178V188.7M332.9 178V184.1M334.16 178V187.84M336.27 178V184M337.73 178V186.21M338.83 178V183M340.23 178V183M341.81 178V188.53M342.81 178V183M344.76 178V186.12M346.28 178V190.47M347.71 178V190.38M349.27 178V183M350.46 178V185.7M351.88 178V185.16M353.04 178V189.55M354.41 178V185.01M356.34 178V183.98M357.57 178V190.64M358.94 178V189.53M360.36 178V190.01M362.25 178V185.08M363.41 178V186.52M364.66 178V188.09M366.68 178V183M367.67 178V183.66M369.28 178V185.03M370.66 178V191.42M372.37 178V189.84M373.91 178V186.11M343.69 98.53V110.94M358.8 121.27V126.52M347.62 106.55V111.87M370.95 165.52V172.35M343.53 98.99V109.79M369.77 148.55V164.04M375.05 176.47V184.06M362.19 135.39V140.53M365.29 135.14V142.47M354.31 118.15V132.22M366.37 139.24V154.07M362.64 128.45V145.23M347.7 102.41V116.8M347.27 106.04V119.17M372.72 172.35V184.74M374.91 169.74V187.02M364.6 134.42V142.08M372.74 156.36V169.71M369.03 156V172.7M377.02 178.34V190.32M370.9 162.22V179.05M371.94 167.74V173.82M363.13 132.48V147.46M361.73 136.43V151.95M345.56 100.44V107.69M360.01 123.48V130.3M348.71 107.64V122.04M373.79 166.4V183.69M367.44 136.87V142.99M352.76 113.82V122.59M371.79 156.95V168.75M373.06 166.71V175.76M362.44 127.4V144.11M354 112.7V130.29M366.25 139.56V147.17M366.21 140.55V153.42M344.45 97.36V109.07M363 129.05V141.37M365.83 136.74V142.6M365.76 140.79V158.23" stroke="#4682b4" stroke-width="2.2" stroke-linecap="round" fill="none"/>
<path d="M457 209h.01M486 189h.01M401 115h.01M385 201h.01M411 207.5h.01M322.5 190.5h.01M427 89h.01M331 75h.01" stroke="#4682b4" stroke-width="2.1" stroke-linecap="round" fill="none"/>
</g>
<circle cx="400.3" cy="132.3" r="2.3" fill="#000"/>
<rect x="290.4" y="3.4" width="261.1" height="290.8" fill="none" stroke="#3a3a3a" stroke-width="0.8"/>
<g font-family="Liberation Sans, sans-serif" fill="#1a1a1a">
<text transform="translate(286.4 5.78) scale(1.05 1)" font-size="6.6" text-anchor="end">10</text>
<text transform="translate(286.4 54.22) scale(1.05 1)" font-size="6.6" text-anchor="end">5</text>
<text transform="translate(286.4 102.65) scale(1.05 1)" font-size="6.6" text-anchor="end">0</text>
<text transform="translate(286.4 151.08) scale(1.05 1)" font-size="6.6" text-anchor="end">−5</text>
<text transform="translate(286.4 199.52) scale(1.05 1)" font-size="6.6" text-anchor="end">−10</text>
<text transform="translate(286.4 247.95) scale(1.05 1)" font-size="6.6" text-anchor="end">−15</text>
<text transform="translate(286.4 296.39) scale(1.05 1)" font-size="6.6" text-anchor="end">−20</text>
<text transform="translate(315.6 304.9) scale(1.05 1)" font-size="6.6" text-anchor="middle">0</text>
<text transform="translate(362.78 304.9) scale(1.05 1)" font-size="6.6" text-anchor="middle">200</text>
<text transform="translate(409.96 304.9) scale(1.05 1)" font-size="6.6" text-anchor="middle">400</text>
<text transform="translate(457.14 304.9) scale(1.05 1)" font-size="6.6" text-anchor="middle">600</text>
<text transform="translate(504.32 304.9) scale(1.05 1)" font-size="6.6" text-anchor="middle">800</text>
<text transform="translate(551 304.9) scale(1.05 1)" font-size="6.6" text-anchor="middle">1000</text>
<text transform="translate(421.2 314.9) scale(1.075 1)" font-size="7.0" text-anchor="middle">Number of residues</text>
<text transform="translate(268.3 149.2) rotate(-90) scale(1.11 1)" text-anchor="middle" font-size="7">Z-score</text>
</g>
<path d="M290.4 3.43h-2.2M290.4 51.87h-2.2M290.4 100.3h-2.2M290.4 148.73h-2.2M290.4 197.17h-2.2M290.4 245.6h-2.2M290.4 294.04h-2.2M315.6 294.2v2.2M362.78 294.2v2.2M409.96 294.2v2.2M457.14 294.2v2.2M504.32 294.2v2.2M551.5 294.2v2.2" stroke="#222" stroke-width="0.55" fill="none"/>
<rect x="506.2" y="7.2" width="42.6" height="24.2" rx="1.2" fill="#fff" fill-opacity="0.8" stroke="#ccc" stroke-width="0.6"/>
<rect x="507.4" y="9.3" width="16.5" height="7.6" fill="#b0c4de"/>
<rect x="507.4" y="20.6" width="16.5" height="7.6" fill="#4682b4"/>
<g font-family="Liberation Sans, sans-serif" font-size="6.5" fill="#1a1a1a"><text x="527.9" y="15.4">X-ray</text><text x="527.9" y="26.8">NMR</text></g>
<text x="480.4" y="21.4" font-family="Liberation Sans, sans-serif" font-size="13" fill="#222">(b)</text>
</svg>
</body></html>
